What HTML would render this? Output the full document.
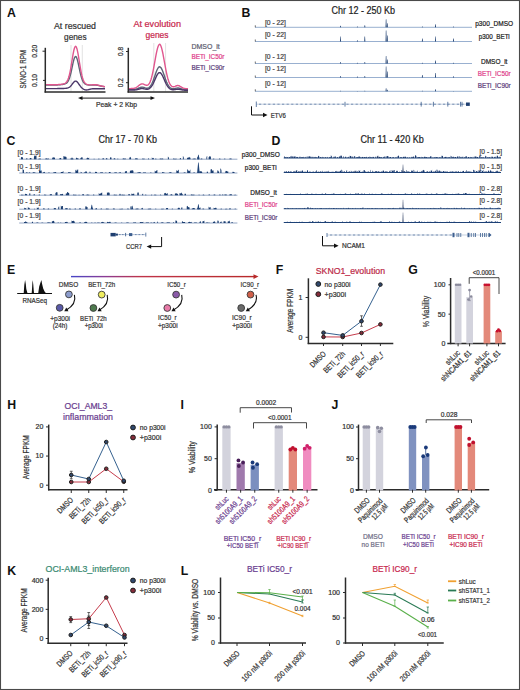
<!DOCTYPE html>
<html><head><meta charset="utf-8"><style>
html,body{margin:0;padding:0;background:#fff;}
svg{display:block;font-family:"Liberation Sans", sans-serif;}
</style></head><body>
<svg width="520" height="690" viewBox="0 0 520 690">
<rect x="0" y="0" width="520" height="690" fill="#fff"/>
<text x="6.90" y="16.60" font-size="12.3" fill="#111" font-weight="bold" >A</text>
<text x="75.00" y="29.00" font-size="9" fill="#333" text-anchor="middle" textLength="42.00" lengthAdjust="spacingAndGlyphs" stroke="#333" stroke-width="0.22" >At rescued</text>
<text x="75.30" y="39.70" font-size="9" fill="#333" text-anchor="middle" textLength="22.50" lengthAdjust="spacingAndGlyphs" stroke="#333" stroke-width="0.22" >genes</text>
<text x="157.20" y="27.30" font-size="9" fill="#c8284e" text-anchor="middle" textLength="47.50" lengthAdjust="spacingAndGlyphs" stroke="#c8284e" stroke-width="0.22" >At evolution</text>
<text x="157.00" y="37.60" font-size="9" fill="#c8284e" text-anchor="middle" textLength="23.00" lengthAdjust="spacingAndGlyphs" stroke="#c8284e" stroke-width="0.22" >genes</text>
<line x1="71.00" y1="45.00" x2="71.00" y2="91.50" stroke="#cfcfcf" stroke-width="0.6" />
<line x1="82.30" y1="45.00" x2="82.30" y2="91.50" stroke="#cfcfcf" stroke-width="0.6" />
<line x1="153.80" y1="43.00" x2="153.80" y2="91.50" stroke="#cfcfcf" stroke-width="0.6" />
<line x1="165.60" y1="43.00" x2="165.60" y2="91.50" stroke="#cfcfcf" stroke-width="0.6" />
<path d="M46.00,84.99 L46.50,85.00 L47.00,85.01 L47.50,85.02 L48.00,85.03 L48.50,85.04 L49.00,85.05 L49.50,85.06 L50.00,85.07 L50.50,85.08 L51.00,85.08 L51.50,85.08 L52.00,85.09 L52.50,85.09 L53.00,85.09 L53.50,85.08 L54.00,85.08 L54.50,85.07 L55.00,85.06 L55.50,85.04 L56.00,85.03 L56.50,85.00 L57.00,84.98 L57.50,84.95 L58.00,84.92 L58.50,84.89 L59.00,84.85 L59.50,84.81 L60.00,84.76 L60.50,84.71 L61.00,84.65 L61.50,84.59 L62.00,84.52 L62.50,84.45 L63.00,84.36 L63.50,84.27 L64.00,84.16 L64.50,84.03 L65.00,83.87 L65.50,83.66 L66.00,83.40 L66.50,83.07 L67.00,82.63 L67.50,82.06 L68.00,81.34 L68.50,80.44 L69.00,79.32 L69.50,77.97 L70.00,76.37 L70.50,74.53 L71.00,72.47 L71.50,70.23 L72.00,67.88 L72.50,65.51 L73.00,63.20 L73.50,61.09 L74.00,59.27 L74.50,57.85 L75.00,56.91 L75.50,56.51 L76.00,56.68 L76.50,57.41 L77.00,58.65 L77.50,60.33 L78.00,62.36 L78.50,64.62 L79.00,67.01 L79.50,69.41 L80.00,71.74 L80.50,73.92 L81.00,75.89 L81.50,77.63 L82.00,79.13 L82.50,80.38 L83.00,81.41 L83.50,82.24 L84.00,82.90 L84.50,83.41 L85.00,83.81 L85.50,84.12 L86.00,84.37 L86.50,84.56 L87.00,84.71 L87.50,84.83 L88.00,84.92 L88.50,84.99 L89.00,85.05 L89.50,85.09 L90.00,85.11 L90.50,85.13 L91.00,85.13 L91.50,85.12 L92.00,85.11 L92.50,85.09 L93.00,85.07 L93.50,85.05 L94.00,85.03 L94.50,85.03 L95.00,85.04 L95.50,85.06 L96.00,85.10 L96.50,85.15 L97.00,85.22 L97.50,85.30 L98.00,85.39 L98.50,85.50 L99.00,85.61 L99.50,85.73 L100.00,85.84 L100.50,85.96 L101.00,86.07 L101.50,86.18 L102.00,86.28 L102.50,86.37 L103.00,86.45 L103.50,86.52 L104.00,86.59 L104.50,86.64 L105.00,86.69" stroke="#5c6676" fill="none" stroke-width="1.4" />
<path d="M46.00,84.59 L46.50,84.60 L47.00,84.62 L47.50,84.63 L48.00,84.65 L48.50,84.66 L49.00,84.67 L49.50,84.69 L50.00,84.70 L50.50,84.71 L51.00,84.71 L51.50,84.72 L52.00,84.73 L52.50,84.73 L53.00,84.73 L53.50,84.73 L54.00,84.73 L54.50,84.72 L55.00,84.72 L55.50,84.71 L56.00,84.69 L56.50,84.68 L57.00,84.66 L57.50,84.63 L58.00,84.60 L58.50,84.57 L59.00,84.54 L59.50,84.50 L60.00,84.45 L60.50,84.40 L61.00,84.34 L61.50,84.28 L62.00,84.21 L62.50,84.12 L63.00,84.03 L63.50,83.90 L64.00,83.75 L64.50,83.56 L65.00,83.32 L65.50,83.00 L66.00,82.58 L66.50,82.04 L67.00,81.34 L67.50,80.45 L68.00,79.33 L68.50,77.96 L69.00,76.30 L69.50,74.34 L70.00,72.07 L70.50,69.52 L71.00,66.72 L71.50,63.74 L72.00,60.66 L72.50,57.60 L73.00,54.66 L73.50,52.00 L74.00,49.72 L74.50,47.96 L75.00,46.80 L75.50,46.31 L76.00,46.52 L76.50,47.42 L77.00,48.96 L77.50,51.05 L78.00,53.59 L78.50,56.46 L79.00,59.52 L79.50,62.64 L80.00,65.72 L80.50,68.65 L81.00,71.35 L81.50,73.79 L82.00,75.93 L82.50,77.76 L83.00,79.29 L83.50,80.56 L84.00,81.58 L84.50,82.39 L85.00,83.02 L85.50,83.52 L86.00,83.90 L86.50,84.19 L87.00,84.41 L87.50,84.58 L88.00,84.70 L88.50,84.79 L89.00,84.85 L89.50,84.89 L90.00,84.91 L90.50,84.91 L91.00,84.89 L91.50,84.87 L92.00,84.83 L92.50,84.80 L93.00,84.76 L93.50,84.72 L94.00,84.69 L94.50,84.68 L95.00,84.68 L95.50,84.70 L96.00,84.73 L96.50,84.79 L97.00,84.87 L97.50,84.97 L98.00,85.08 L98.50,85.21 L99.00,85.34 L99.50,85.48 L100.00,85.63 L100.50,85.77 L101.00,85.91 L101.50,86.04 L102.00,86.16 L102.50,86.27 L103.00,86.37 L103.50,86.46 L104.00,86.54 L104.50,86.61 L105.00,86.67" stroke="#e0568e" fill="none" stroke-width="1.4" />
<path d="M46.00,88.60 L46.50,88.60 L47.00,88.60 L47.50,88.60 L48.00,88.60 L48.50,88.60 L49.00,88.60 L49.50,88.60 L50.00,88.60 L50.50,88.61 L51.00,88.61 L51.50,88.60 L52.00,88.60 L52.50,88.60 L53.00,88.60 L53.50,88.60 L54.00,88.60 L54.50,88.60 L55.00,88.59 L55.50,88.59 L56.00,88.59 L56.50,88.58 L57.00,88.58 L57.50,88.57 L58.00,88.57 L58.50,88.56 L59.00,88.55 L59.50,88.54 L60.00,88.54 L60.50,88.53 L61.00,88.52 L61.50,88.51 L62.00,88.49 L62.50,88.48 L63.00,88.47 L63.50,88.45 L64.00,88.43 L64.50,88.41 L65.00,88.38 L65.50,88.35 L66.00,88.30 L66.50,88.24 L67.00,88.16 L67.50,88.05 L68.00,87.89 L68.50,87.69 L69.00,87.44 L69.50,87.11 L70.00,86.72 L70.50,86.25 L71.00,85.70 L71.50,85.10 L72.00,84.44 L72.50,83.77 L73.00,83.10 L73.50,82.48 L74.00,81.94 L74.50,81.51 L75.00,81.23 L75.50,81.11 L76.00,81.16 L76.50,81.39 L77.00,81.77 L77.50,82.28 L78.00,82.89 L78.50,83.57 L79.00,84.28 L79.50,85.00 L80.00,85.69 L80.50,86.34 L81.00,86.94 L81.50,87.49 L82.00,87.97 L82.50,88.40 L83.00,88.78 L83.50,89.10 L84.00,89.37 L84.50,89.59 L85.00,89.76 L85.50,89.88 L86.00,89.94 L86.50,89.95 L87.00,89.92 L87.50,89.85 L88.00,89.75 L88.50,89.62 L89.00,89.49 L89.50,89.35 L90.00,89.23 L90.50,89.11 L91.00,89.01 L91.50,88.93 L92.00,88.86 L92.50,88.82 L93.00,88.78 L93.50,88.76 L94.00,88.74 L94.50,88.74 L95.00,88.73 L95.50,88.73 L96.00,88.74 L96.50,88.74 L97.00,88.75 L97.50,88.75 L98.00,88.75 L98.50,88.76 L99.00,88.76 L99.50,88.77 L100.00,88.77 L100.50,88.77 L101.00,88.78 L101.50,88.78 L102.00,88.78 L102.50,88.79 L103.00,88.79 L103.50,88.79 L104.00,88.79 L104.50,88.80 L105.00,88.80" stroke="#4a3668" fill="none" stroke-width="1.4" />
<path d="M129.00,89.30 L129.50,89.30 L130.00,89.30 L130.50,89.31 L131.00,89.31 L131.50,89.31 L132.00,89.31 L132.50,89.30 L133.00,89.30 L133.50,89.28 L134.00,89.26 L134.50,89.23 L135.00,89.19 L135.50,89.12 L136.00,89.04 L136.50,88.93 L137.00,88.79 L137.50,88.63 L138.00,88.44 L138.50,88.23 L139.00,88.01 L139.50,87.80 L140.00,87.59 L140.50,87.41 L141.00,87.27 L141.50,87.18 L142.00,87.15 L142.50,87.17 L143.00,87.25 L143.50,87.37 L144.00,87.52 L144.50,87.69 L145.00,87.87 L145.50,88.02 L146.00,88.14 L146.50,88.21 L147.00,88.22 L147.50,88.16 L148.00,88.02 L148.50,87.80 L149.00,87.48 L149.50,87.06 L150.00,86.54 L150.50,85.90 L151.00,85.15 L151.50,84.28 L152.00,83.29 L152.50,82.19 L153.00,80.98 L153.50,79.68 L154.00,78.30 L154.50,76.87 L155.00,75.41 L155.50,73.96 L156.00,72.56 L156.50,71.23 L157.00,70.01 L157.50,68.95 L158.00,68.08 L158.50,67.41 L159.00,66.98 L159.50,66.81 L160.00,66.88 L160.50,67.21 L161.00,67.78 L161.50,68.58 L162.00,69.57 L162.50,70.73 L163.00,72.02 L163.50,73.40 L164.00,74.85 L164.50,76.31 L165.00,77.76 L165.50,79.17 L166.00,80.51 L166.50,81.77 L167.00,82.92 L167.50,83.97 L168.00,84.90 L168.50,85.71 L169.00,86.41 L169.50,87.01 L170.00,87.50 L170.50,87.90 L171.00,88.22 L171.50,88.45 L172.00,88.62 L172.50,88.72 L173.00,88.76 L173.50,88.75 L174.00,88.70 L174.50,88.62 L175.00,88.52 L175.50,88.40 L176.00,88.29 L176.50,88.18 L177.00,88.10 L177.50,88.05 L178.00,88.04 L178.50,88.07 L179.00,88.13 L179.50,88.23 L180.00,88.36 L180.50,88.50 L181.00,88.65 L181.50,88.81 L182.00,88.95 L182.50,89.08 L183.00,89.20 L183.50,89.30 L184.00,89.38 L184.50,89.44 L185.00,89.49 L185.50,89.52 L186.00,89.55 L186.50,89.57 L187.00,89.58 L187.50,89.59 L188.00,89.59" stroke="#5c6676" fill="none" stroke-width="1.4" />
<path d="M129.00,88.59 L129.50,88.59 L130.00,88.58 L130.50,88.58 L131.00,88.56 L131.50,88.55 L132.00,88.52 L132.50,88.48 L133.00,88.43 L133.50,88.36 L134.00,88.26 L134.50,88.13 L135.00,87.98 L135.50,87.78 L136.00,87.54 L136.50,87.26 L137.00,86.94 L137.50,86.59 L138.00,86.20 L138.50,85.80 L139.00,85.41 L139.50,85.02 L140.00,84.67 L140.50,84.36 L141.00,84.13 L141.50,83.96 L142.00,83.88 L142.50,83.89 L143.00,83.97 L143.50,84.12 L144.00,84.32 L144.50,84.55 L145.00,84.78 L145.50,85.00 L146.00,85.17 L146.50,85.27 L147.00,85.27 L147.50,85.15 L148.00,84.90 L148.50,84.48 L149.00,83.88 L149.50,83.09 L150.00,82.09 L150.50,80.87 L151.00,79.42 L151.50,77.74 L152.00,75.83 L152.50,73.70 L153.00,71.37 L153.50,68.87 L154.00,66.22 L154.50,63.47 L155.00,60.69 L155.50,57.92 L156.00,55.23 L156.50,52.70 L157.00,50.39 L157.50,48.38 L158.00,46.72 L158.50,45.46 L159.00,44.65 L159.50,44.31 L160.00,44.46 L160.50,45.08 L161.00,46.16 L161.50,47.67 L162.00,49.55 L162.50,51.75 L163.00,54.20 L163.50,56.84 L164.00,59.59 L164.50,62.38 L165.00,65.16 L165.50,67.86 L166.00,70.44 L166.50,72.86 L167.00,75.10 L167.50,77.13 L168.00,78.95 L168.50,80.55 L169.00,81.94 L169.50,83.12 L170.00,84.11 L170.50,84.92 L171.00,85.56 L171.50,86.05 L172.00,86.41 L172.50,86.64 L173.00,86.75 L173.50,86.77 L174.00,86.70 L174.50,86.56 L175.00,86.38 L175.50,86.18 L176.00,85.97 L176.50,85.79 L177.00,85.65 L177.50,85.57 L178.00,85.56 L178.50,85.63 L179.00,85.78 L179.50,85.99 L180.00,86.25 L180.50,86.55 L181.00,86.87 L181.50,87.18 L182.00,87.48 L182.50,87.75 L183.00,87.98 L183.50,88.18 L184.00,88.34 L184.50,88.47 L185.00,88.56 L185.50,88.64 L186.00,88.69 L186.50,88.72 L187.00,88.75 L187.50,88.77 L188.00,88.78" stroke="#e0568e" fill="none" stroke-width="1.4" />
<path d="M129.00,90.00 L129.50,90.00 L130.00,90.00 L130.50,90.01 L131.00,90.01 L131.50,90.01 L132.00,90.01 L132.50,90.01 L133.00,90.00 L133.50,90.00 L134.00,89.98 L134.50,89.96 L135.00,89.93 L135.50,89.89 L136.00,89.83 L136.50,89.76 L137.00,89.67 L137.50,89.56 L138.00,89.43 L138.50,89.29 L139.00,89.14 L139.50,88.99 L140.00,88.85 L140.50,88.73 L141.00,88.64 L141.50,88.58 L142.00,88.55 L142.50,88.57 L143.00,88.63 L143.50,88.71 L144.00,88.82 L144.50,88.94 L145.00,89.06 L145.50,89.17 L146.00,89.25 L146.50,89.30 L147.00,89.31 L147.50,89.26 L148.00,89.17 L148.50,89.00 L149.00,88.77 L149.50,88.47 L150.00,88.08 L150.50,87.61 L151.00,87.04 L151.50,86.39 L152.00,85.64 L152.50,84.79 L153.00,83.86 L153.50,82.85 L154.00,81.77 L154.50,80.65 L155.00,79.50 L155.50,78.35 L156.00,77.23 L156.50,76.16 L157.00,75.19 L157.50,74.34 L158.00,73.63 L158.50,73.09 L159.00,72.75 L159.50,72.60 L160.00,72.67 L160.50,72.93 L161.00,73.39 L161.50,74.04 L162.00,74.84 L162.50,75.77 L163.00,76.80 L163.50,77.91 L164.00,79.05 L164.50,80.21 L165.00,81.36 L165.50,82.46 L166.00,83.51 L166.50,84.48 L167.00,85.37 L167.50,86.17 L168.00,86.87 L168.50,87.49 L169.00,88.01 L169.50,88.45 L170.00,88.81 L170.50,89.10 L171.00,89.33 L171.50,89.50 L172.00,89.62 L172.50,89.69 L173.00,89.72 L173.50,89.72 L174.00,89.69 L174.50,89.63 L175.00,89.56 L175.50,89.48 L176.00,89.41 L176.50,89.34 L177.00,89.28 L177.50,89.25 L178.00,89.24 L178.50,89.26 L179.00,89.31 L179.50,89.37 L180.00,89.46 L180.50,89.55 L181.00,89.66 L181.50,89.76 L182.00,89.86 L182.50,89.95 L183.00,90.03 L183.50,90.09 L184.00,90.14 L184.50,90.19 L185.00,90.22 L185.50,90.24 L186.00,90.26 L186.50,90.27 L187.00,90.28 L187.50,90.29 L188.00,90.30" stroke="#4a3668" fill="none" stroke-width="1.4" />
<line x1="45.30" y1="47.80" x2="45.30" y2="92.60" stroke="#2b2b2b" stroke-width="1.5" />
<line x1="44.60" y1="91.90" x2="105.50" y2="91.90" stroke="#2b2b2b" stroke-width="1.5" />
<line x1="42.50" y1="51.20" x2="45.30" y2="51.20" stroke="#2b2b2b" stroke-width="1" />
<line x1="43.00" y1="80.40" x2="45.30" y2="80.40" stroke="#2b2b2b" stroke-width="1" />
<line x1="128.30" y1="47.80" x2="128.30" y2="92.60" stroke="#2b2b2b" stroke-width="1.5" />
<line x1="127.60" y1="91.90" x2="188.00" y2="91.90" stroke="#2b2b2b" stroke-width="1.5" />
<line x1="126.00" y1="51.50" x2="128.30" y2="51.50" stroke="#2b2b2b" stroke-width="1" />
<line x1="126.00" y1="82.70" x2="128.30" y2="82.70" stroke="#2b2b2b" stroke-width="1" />
<text x="37.20" y="51.20" font-size="7" fill="#333" text-anchor="middle" textLength="13.00" lengthAdjust="spacingAndGlyphs" stroke="#333" stroke-width="0.22" transform="rotate(-90 37.20 51.20)" >0.20</text>
<text x="37.20" y="80.40" font-size="7" fill="#333" text-anchor="middle" textLength="13.00" lengthAdjust="spacingAndGlyphs" stroke="#333" stroke-width="0.22" transform="rotate(-90 37.20 80.40)" >0.10</text>
<text x="123.20" y="51.50" font-size="7" fill="#333" text-anchor="middle" textLength="9.00" lengthAdjust="spacingAndGlyphs" stroke="#333" stroke-width="0.22" transform="rotate(-90 123.20 51.50)" >0.8</text>
<text x="123.20" y="82.70" font-size="7" fill="#333" text-anchor="middle" textLength="9.00" lengthAdjust="spacingAndGlyphs" stroke="#333" stroke-width="0.22" transform="rotate(-90 123.20 82.70)" >0.2</text>
<text x="26.40" y="69.30" font-size="9" fill="#333" text-anchor="middle" textLength="38.50" lengthAdjust="spacingAndGlyphs" stroke="#333" stroke-width="0.22" transform="rotate(-90 26.40 69.30)" >SKNO-1 RPM</text>
<line x1="80.00" y1="98.10" x2="153.00" y2="98.10" stroke="#111" stroke-width="1" />
<path d="M78,98.1 L82.5,96.2 L82.5,100 Z" stroke="none" fill="#111" stroke-width="1" />
<path d="M155,98.1 L150.5,96.2 L150.5,100 Z" stroke="none" fill="#111" stroke-width="1" />
<text x="96.00" y="106.90" font-size="7.5" fill="#333" textLength="41.00" lengthAdjust="spacingAndGlyphs" stroke="#333" stroke-width="0.22" >Peak + 2 Kbp</text>
<text x="191.50" y="48.50" font-size="7.5" fill="#5e5e70" textLength="28.30" lengthAdjust="spacingAndGlyphs" stroke="#5e5e70" stroke-width="0.22" >DMSO_lt</text>
<text x="191.50" y="59.00" font-size="7.5" fill="#e0408a" textLength="33.00" lengthAdjust="spacingAndGlyphs" stroke="#e0408a" stroke-width="0.22" >BETi_IC50r</text>
<text x="191.50" y="70.00" font-size="7.5" fill="#5a3a78" textLength="33.00" lengthAdjust="spacingAndGlyphs" stroke="#5a3a78" stroke-width="0.22" >BETi_IC90r</text>
<text x="241.60" y="16.60" font-size="12.3" fill="#111" font-weight="bold" >B</text>
<text x="331.50" y="14.00" font-size="10" fill="#222" textLength="63.50" lengthAdjust="spacingAndGlyphs" stroke="#222" stroke-width="0.22" >Chr 12  - 250 Kb</text>
<line x1="255.00" y1="27.30" x2="472.00" y2="27.30" stroke="#7f9cc4" stroke-width="0.8" />
<line x1="255.30" y1="25.30" x2="255.30" y2="27.30" stroke="#333" stroke-width="0.7" />
<text x="265.00" y="24.80" font-size="7" fill="#444" textLength="21.00" lengthAdjust="spacingAndGlyphs" stroke="#444" stroke-width="0.22" >[0 - 22]</text>
<line x1="255.00" y1="41.50" x2="472.00" y2="41.50" stroke="#7f9cc4" stroke-width="0.8" />
<line x1="255.30" y1="39.50" x2="255.30" y2="41.50" stroke="#333" stroke-width="0.7" />
<text x="265.00" y="37.20" font-size="7" fill="#444" textLength="21.00" lengthAdjust="spacingAndGlyphs" stroke="#444" stroke-width="0.22" >[0 - 22]</text>
<line x1="255.00" y1="63.50" x2="472.00" y2="63.50" stroke="#7f9cc4" stroke-width="0.8" />
<line x1="255.30" y1="61.50" x2="255.30" y2="63.50" stroke="#333" stroke-width="0.7" />
<text x="265.00" y="58.90" font-size="7" fill="#444" textLength="21.00" lengthAdjust="spacingAndGlyphs" stroke="#444" stroke-width="0.22" >[0 - 12]</text>
<line x1="255.00" y1="77.50" x2="472.00" y2="77.50" stroke="#7f9cc4" stroke-width="0.8" />
<line x1="255.30" y1="75.50" x2="255.30" y2="77.50" stroke="#333" stroke-width="0.7" />
<text x="265.00" y="71.00" font-size="7" fill="#444" textLength="21.00" lengthAdjust="spacingAndGlyphs" stroke="#444" stroke-width="0.22" >[0 - 12]</text>
<line x1="255.00" y1="91.30" x2="472.00" y2="91.30" stroke="#7f9cc4" stroke-width="0.8" />
<line x1="255.30" y1="89.30" x2="255.30" y2="91.30" stroke="#333" stroke-width="0.7" />
<text x="265.00" y="85.80" font-size="7" fill="#444" textLength="21.00" lengthAdjust="spacingAndGlyphs" stroke="#444" stroke-width="0.22" >[0 - 12]</text>
<path d="M339.95,27.30 L340.25,25.80 L340.75,25.80 L341.05,27.30 Z" stroke="none" fill="#1f3f70" stroke-width="1" />
<path d="M339.95,41.50 L340.25,36.50 L340.75,36.50 L341.05,41.50 Z" stroke="none" fill="#1f3f70" stroke-width="1" />
<path d="M339.95,63.50 L340.25,62.00 L340.75,62.00 L341.05,63.50 Z" stroke="none" fill="#1f3f70" stroke-width="1" />
<path d="M339.95,77.50 L340.25,76.00 L340.75,76.00 L341.05,77.50 Z" stroke="none" fill="#1f3f70" stroke-width="1" />
<path d="M339.95,91.30 L340.25,90.70 L340.75,90.70 L341.05,91.30 Z" stroke="none" fill="#1f3f70" stroke-width="1" />
<path d="M356.85,27.30 L357.15,26.50 L357.65,26.50 L357.95,27.30 Z" stroke="none" fill="#1f3f70" stroke-width="1" />
<path d="M356.85,41.50 L357.15,40.30 L357.65,40.30 L357.95,41.50 Z" stroke="none" fill="#1f3f70" stroke-width="1" />
<path d="M356.85,63.50 L357.15,62.70 L357.65,62.70 L357.95,63.50 Z" stroke="none" fill="#1f3f70" stroke-width="1" />
<path d="M356.85,77.50 L357.15,76.50 L357.65,76.50 L357.95,77.50 Z" stroke="none" fill="#1f3f70" stroke-width="1" />
<path d="M356.85,91.30 L357.15,90.90 L357.65,90.90 L357.95,91.30 Z" stroke="none" fill="#1f3f70" stroke-width="1" />
<path d="M364.25,27.30 L364.55,25.30 L365.05,25.30 L365.35,27.30 Z" stroke="none" fill="#1f3f70" stroke-width="1" />
<path d="M364.25,41.50 L364.55,36.50 L365.05,36.50 L365.35,41.50 Z" stroke="none" fill="#1f3f70" stroke-width="1" />
<path d="M364.25,63.50 L364.55,62.00 L365.05,62.00 L365.35,63.50 Z" stroke="none" fill="#1f3f70" stroke-width="1" />
<path d="M364.25,77.50 L364.55,76.00 L365.05,76.00 L365.35,77.50 Z" stroke="none" fill="#1f3f70" stroke-width="1" />
<path d="M364.25,91.30 L364.55,90.80 L365.05,90.80 L365.35,91.30 Z" stroke="none" fill="#1f3f70" stroke-width="1" />
<path d="M385.55,27.30 L385.85,19.30 L386.35,19.30 L386.65,27.30 Z" stroke="none" fill="#1f3f70" stroke-width="1" />
<path d="M385.55,41.50 L385.85,30.50 L386.35,30.50 L386.65,41.50 Z" stroke="none" fill="#1f3f70" stroke-width="1" />
<path d="M385.55,63.50 L385.85,56.00 L386.35,56.00 L386.65,63.50 Z" stroke="none" fill="#1f3f70" stroke-width="1" />
<path d="M385.55,77.50 L385.85,66.50 L386.35,66.50 L386.65,77.50 Z" stroke="none" fill="#1f3f70" stroke-width="1" />
<path d="M385.55,91.30 L385.85,88.30 L386.35,88.30 L386.65,91.30 Z" stroke="none" fill="#1f3f70" stroke-width="1" />
<path d="M386.75,27.30 L387.05,23.30 L387.55,23.30 L387.85,27.30 Z" stroke="none" fill="#1f3f70" stroke-width="1" />
<path d="M386.75,41.50 L387.05,35.50 L387.55,35.50 L387.85,41.50 Z" stroke="none" fill="#1f3f70" stroke-width="1" />
<path d="M386.75,63.50 L387.05,59.50 L387.55,59.50 L387.85,63.50 Z" stroke="none" fill="#1f3f70" stroke-width="1" />
<path d="M386.75,77.50 L387.05,71.50 L387.55,71.50 L387.85,77.50 Z" stroke="none" fill="#1f3f70" stroke-width="1" />
<path d="M386.75,91.30 L387.05,89.80 L387.55,89.80 L387.85,91.30 Z" stroke="none" fill="#1f3f70" stroke-width="1" />
<path d="M421.85,27.30 L422.15,26.50 L422.65,26.50 L422.95,27.30 Z" stroke="none" fill="#1f3f70" stroke-width="1" />
<path d="M421.85,41.50 L422.15,38.50 L422.65,38.50 L422.95,41.50 Z" stroke="none" fill="#1f3f70" stroke-width="1" />
<path d="M421.85,63.50 L422.15,62.70 L422.65,62.70 L422.95,63.50 Z" stroke="none" fill="#1f3f70" stroke-width="1" />
<path d="M421.85,77.50 L422.15,75.00 L422.65,75.00 L422.95,77.50 Z" stroke="none" fill="#1f3f70" stroke-width="1" />
<path d="M421.85,91.30 L422.15,90.80 L422.65,90.80 L422.95,91.30 Z" stroke="none" fill="#1f3f70" stroke-width="1" />
<path d="M434.95,27.30 L435.25,24.30 L435.75,24.30 L436.05,27.30 Z" stroke="none" fill="#1f3f70" stroke-width="1" />
<path d="M434.95,41.50 L435.25,36.50 L435.75,36.50 L436.05,41.50 Z" stroke="none" fill="#1f3f70" stroke-width="1" />
<path d="M434.95,63.50 L435.25,60.50 L435.75,60.50 L436.05,63.50 Z" stroke="none" fill="#1f3f70" stroke-width="1" />
<path d="M434.95,77.50 L435.25,73.00 L435.75,73.00 L436.05,77.50 Z" stroke="none" fill="#1f3f70" stroke-width="1" />
<path d="M434.95,91.30 L435.25,89.30 L435.75,89.30 L436.05,91.30 Z" stroke="none" fill="#1f3f70" stroke-width="1" />
<path d="M452.95,27.30 L453.25,26.50 L453.75,26.50 L454.05,27.30 Z" stroke="none" fill="#1f3f70" stroke-width="1" />
<path d="M452.95,41.50 L453.25,38.50 L453.75,38.50 L454.05,41.50 Z" stroke="none" fill="#1f3f70" stroke-width="1" />
<path d="M452.95,63.50 L453.25,62.70 L453.75,62.70 L454.05,63.50 Z" stroke="none" fill="#1f3f70" stroke-width="1" />
<path d="M452.95,77.50 L453.25,76.30 L453.75,76.30 L454.05,77.50 Z" stroke="none" fill="#1f3f70" stroke-width="1" />
<path d="M452.95,91.30 L453.25,90.90 L453.75,90.90 L454.05,91.30 Z" stroke="none" fill="#1f3f70" stroke-width="1" />
<text x="494.20" y="25.80" font-size="7.5" fill="#222" text-anchor="middle" textLength="38.00" lengthAdjust="spacingAndGlyphs" stroke="#222" stroke-width="0.22" >p300_DMSO</text>
<text x="494.20" y="38.60" font-size="7.5" fill="#222" text-anchor="middle" textLength="31.00" lengthAdjust="spacingAndGlyphs" stroke="#222" stroke-width="0.22" >p300_BETi</text>
<text x="494.20" y="63.60" font-size="7.5" fill="#222" text-anchor="middle" textLength="26.50" lengthAdjust="spacingAndGlyphs" stroke="#222" stroke-width="0.22" >DMSO_lt</text>
<text x="494.20" y="76.10" font-size="7.5" fill="#e0408a" text-anchor="middle" textLength="33.00" lengthAdjust="spacingAndGlyphs" stroke="#e0408a" stroke-width="0.22" >BETi_IC50r</text>
<text x="494.20" y="88.00" font-size="7.5" fill="#5a3a78" text-anchor="middle" textLength="33.00" lengthAdjust="spacingAndGlyphs" stroke="#5a3a78" stroke-width="0.22" >BETi_IC90r</text>
<line x1="256.30" y1="104.20" x2="467.00" y2="104.20" stroke="#9fb2cc" stroke-width="0.6" />
<line x1="259.00" y1="104.20" x2="261.20" y2="104.20" stroke="#4a6a98" stroke-width="0.7" />
<line x1="263.60" y1="104.20" x2="265.80" y2="104.20" stroke="#4a6a98" stroke-width="0.7" />
<line x1="268.20" y1="104.20" x2="270.40" y2="104.20" stroke="#4a6a98" stroke-width="0.7" />
<line x1="272.80" y1="104.20" x2="275.00" y2="104.20" stroke="#4a6a98" stroke-width="0.7" />
<line x1="277.40" y1="104.20" x2="279.60" y2="104.20" stroke="#4a6a98" stroke-width="0.7" />
<line x1="282.00" y1="104.20" x2="284.20" y2="104.20" stroke="#4a6a98" stroke-width="0.7" />
<line x1="286.60" y1="104.20" x2="288.80" y2="104.20" stroke="#4a6a98" stroke-width="0.7" />
<line x1="291.20" y1="104.20" x2="293.40" y2="104.20" stroke="#4a6a98" stroke-width="0.7" />
<line x1="295.80" y1="104.20" x2="298.00" y2="104.20" stroke="#4a6a98" stroke-width="0.7" />
<line x1="300.40" y1="104.20" x2="302.60" y2="104.20" stroke="#4a6a98" stroke-width="0.7" />
<line x1="305.00" y1="104.20" x2="307.20" y2="104.20" stroke="#4a6a98" stroke-width="0.7" />
<line x1="309.60" y1="104.20" x2="311.80" y2="104.20" stroke="#4a6a98" stroke-width="0.7" />
<line x1="314.20" y1="104.20" x2="316.40" y2="104.20" stroke="#4a6a98" stroke-width="0.7" />
<line x1="318.80" y1="104.20" x2="321.00" y2="104.20" stroke="#4a6a98" stroke-width="0.7" />
<line x1="323.40" y1="104.20" x2="325.60" y2="104.20" stroke="#4a6a98" stroke-width="0.7" />
<line x1="328.00" y1="104.20" x2="330.20" y2="104.20" stroke="#4a6a98" stroke-width="0.7" />
<line x1="332.60" y1="104.20" x2="334.80" y2="104.20" stroke="#4a6a98" stroke-width="0.7" />
<line x1="337.20" y1="104.20" x2="339.40" y2="104.20" stroke="#4a6a98" stroke-width="0.7" />
<line x1="341.80" y1="104.20" x2="344.00" y2="104.20" stroke="#4a6a98" stroke-width="0.7" />
<line x1="346.40" y1="104.20" x2="348.60" y2="104.20" stroke="#4a6a98" stroke-width="0.7" />
<line x1="351.00" y1="104.20" x2="353.20" y2="104.20" stroke="#4a6a98" stroke-width="0.7" />
<line x1="355.60" y1="104.20" x2="357.80" y2="104.20" stroke="#4a6a98" stroke-width="0.7" />
<line x1="360.20" y1="104.20" x2="362.40" y2="104.20" stroke="#4a6a98" stroke-width="0.7" />
<line x1="364.80" y1="104.20" x2="367.00" y2="104.20" stroke="#4a6a98" stroke-width="0.7" />
<line x1="369.40" y1="104.20" x2="371.60" y2="104.20" stroke="#4a6a98" stroke-width="0.7" />
<line x1="374.00" y1="104.20" x2="376.20" y2="104.20" stroke="#4a6a98" stroke-width="0.7" />
<line x1="378.60" y1="104.20" x2="380.80" y2="104.20" stroke="#4a6a98" stroke-width="0.7" />
<line x1="383.20" y1="104.20" x2="385.40" y2="104.20" stroke="#4a6a98" stroke-width="0.7" />
<line x1="387.80" y1="104.20" x2="390.00" y2="104.20" stroke="#4a6a98" stroke-width="0.7" />
<line x1="392.40" y1="104.20" x2="394.60" y2="104.20" stroke="#4a6a98" stroke-width="0.7" />
<line x1="397.00" y1="104.20" x2="399.20" y2="104.20" stroke="#4a6a98" stroke-width="0.7" />
<line x1="401.60" y1="104.20" x2="403.80" y2="104.20" stroke="#4a6a98" stroke-width="0.7" />
<line x1="406.20" y1="104.20" x2="408.40" y2="104.20" stroke="#4a6a98" stroke-width="0.7" />
<line x1="410.80" y1="104.20" x2="413.00" y2="104.20" stroke="#4a6a98" stroke-width="0.7" />
<line x1="415.40" y1="104.20" x2="417.60" y2="104.20" stroke="#4a6a98" stroke-width="0.7" />
<line x1="420.00" y1="104.20" x2="422.20" y2="104.20" stroke="#4a6a98" stroke-width="0.7" />
<line x1="424.60" y1="104.20" x2="426.80" y2="104.20" stroke="#4a6a98" stroke-width="0.7" />
<line x1="429.20" y1="104.20" x2="431.40" y2="104.20" stroke="#4a6a98" stroke-width="0.7" />
<line x1="433.80" y1="104.20" x2="436.00" y2="104.20" stroke="#4a6a98" stroke-width="0.7" />
<line x1="438.40" y1="104.20" x2="440.60" y2="104.20" stroke="#4a6a98" stroke-width="0.7" />
<line x1="443.00" y1="104.20" x2="445.20" y2="104.20" stroke="#4a6a98" stroke-width="0.7" />
<line x1="447.60" y1="104.20" x2="449.80" y2="104.20" stroke="#4a6a98" stroke-width="0.7" />
<line x1="452.20" y1="104.20" x2="454.40" y2="104.20" stroke="#4a6a98" stroke-width="0.7" />
<line x1="456.80" y1="104.20" x2="459.00" y2="104.20" stroke="#4a6a98" stroke-width="0.7" />
<line x1="461.40" y1="104.20" x2="463.60" y2="104.20" stroke="#4a6a98" stroke-width="0.7" />
<line x1="256.30" y1="101.50" x2="256.30" y2="107.00" stroke="#3d5f8f" stroke-width="0.8" />
<line x1="345.00" y1="101.80" x2="345.00" y2="106.60" stroke="#3d5f8f" stroke-width="0.8" />
<line x1="421.20" y1="101.80" x2="421.20" y2="106.60" stroke="#3d5f8f" stroke-width="0.8" />
<line x1="433.40" y1="101.80" x2="433.40" y2="106.60" stroke="#3d5f8f" stroke-width="0.8" />
<line x1="447.80" y1="101.80" x2="447.80" y2="106.60" stroke="#3d5f8f" stroke-width="0.8" />
<line x1="460.50" y1="101.80" x2="460.50" y2="106.60" stroke="#3d5f8f" stroke-width="0.8" />
<line x1="462.00" y1="101.80" x2="462.00" y2="106.60" stroke="#3d5f8f" stroke-width="0.8" />
<rect x="466.00" y="102.50" width="3.80" height="3.40" fill="#1f3f70"/>
<path d="M251.5,106.3 L251.5,115 L264,115" stroke="#111" fill="none" stroke-width="1.0" />
<path d="M267.5,115 L263,112.8 L263,117.2 Z" stroke="none" fill="#111" stroke-width="1" />
<text x="270.80" y="117.90" font-size="7" fill="#333" textLength="15.00" lengthAdjust="spacingAndGlyphs" stroke="#333" stroke-width="0.22" >ETV6</text>
<text x="6.60" y="145.40" font-size="12.3" fill="#111" font-weight="bold" >C</text>
<text x="98.50" y="143.00" font-size="10" fill="#222" textLength="58.40" lengthAdjust="spacingAndGlyphs" stroke="#222" stroke-width="0.22" >Chr 17  - 70 Kb</text>
<text x="17.60" y="155.40" font-size="7" fill="#444" textLength="23.00" lengthAdjust="spacingAndGlyphs" stroke="#444" stroke-width="0.22" >[0 - 1.9]</text>
<line x1="19.20" y1="159.20" x2="237.40" y2="159.20" stroke="#3a5e92" stroke-width="0.55" />
<path d="M20.95,159.20 L20.95,157.14 L21.64,157.10 L22.34,157.55 L23.03,156.99 L23.03,159.20 Z M26.25,159.20 L26.25,158.69 L26.76,158.06 L27.28,158.05 L27.28,159.20 Z M29.75,159.20 L29.75,157.90 L30.58,157.94 L31.42,157.92 L31.42,159.20 Z M33.94,159.20 L33.94,157.04 L34.57,155.21 L35.21,156.20 L35.85,155.35 L36.49,155.55 L36.49,159.20 Z M38.30,159.20 L38.30,158.86 L38.95,158.66 L39.61,158.47 L40.26,158.57 L40.92,158.76 L40.92,159.20 Z M45.31,159.20 L45.31,158.61 L45.98,158.50 L46.66,158.36 L47.33,158.78 L48.00,158.55 L48.67,158.33 L48.67,159.20 Z M52.18,159.20 L52.18,157.42 L52.89,157.75 L53.59,157.29 L54.29,157.38 L54.99,157.66 L54.99,159.20 Z M59.44,159.20 L59.44,158.13 L60.04,158.09 L60.65,158.03 L61.26,158.21 L61.26,159.20 Z M63.42,159.20 L63.42,156.24 L64.05,156.12 L64.68,156.67 L65.32,156.71 L65.95,156.52 L66.59,157.45 L66.59,159.20 Z M70.36,159.20 L70.36,158.47 L71.00,158.49 L71.64,158.80 L72.28,158.83 L72.93,158.55 L73.57,158.74 L73.57,159.20 Z M75.95,159.20 L75.95,157.63 L76.58,157.83 L77.22,158.09 L77.85,158.45 L78.49,158.34 L78.49,159.20 Z M80.42,159.20 L80.42,158.04 L81.17,157.81 L81.93,157.08 L82.69,157.79 L82.69,159.20 Z M86.60,159.20 L86.60,157.91 L87.23,157.83 L87.86,157.65 L88.50,158.26 L89.13,157.54 L89.13,159.20 Z M93.65,159.20 L93.65,158.72 L94.11,158.80 L94.58,158.78 L94.58,159.20 Z M98.22,159.20 L98.22,158.39 L98.79,158.66 L99.36,158.59 L99.36,159.20 Z M102.36,159.20 L102.36,158.59 L103.24,158.32 L104.13,158.55 L104.13,159.20 Z M105.88,159.20 L105.88,158.15 L106.57,158.37 L107.26,158.12 L107.26,159.20 Z M109.98,159.20 L109.98,158.10 L110.75,157.06 L111.51,157.84 L111.51,159.20 Z M113.75,159.20 L113.75,158.29 L114.53,158.26 L115.31,158.51 L115.31,159.20 Z M117.39,159.20 L117.39,158.71 L117.80,158.54 L118.21,158.55 L118.21,159.20 Z M122.66,159.20 L122.66,158.40 L123.28,158.53 L123.90,158.36 L124.52,158.69 L125.14,158.21 L125.76,158.79 L125.76,159.20 Z M129.30,159.20 L129.30,157.88 L130.20,156.67 L131.09,158.11 L131.09,159.20 Z M135.08,159.20 L135.08,158.54 L135.78,158.37 L136.47,158.32 L137.16,158.51 L137.85,158.55 L137.85,159.20 Z M142.25,159.20 L142.25,158.49 L143.03,158.49 L143.81,158.76 L144.59,158.52 L144.59,159.20 Z M148.01,159.20 L148.01,158.34 L148.57,158.50 L149.12,158.70 L149.12,159.20 Z M151.82,159.20 L151.82,157.24 L152.51,158.23 L153.21,158.29 L153.90,157.78 L153.90,159.20 Z M155.18,159.20 L155.18,158.82 L155.80,158.55 L156.41,158.81 L156.41,159.20 Z M159.76,159.20 L159.76,158.47 L160.47,158.56 L161.17,158.77 L161.87,158.38 L162.57,158.48 L163.27,158.67 L163.27,159.20 Z M167.85,159.20 L167.85,156.53 L168.39,157.81 L168.94,156.40 L168.94,159.20 Z M173.12,159.20 L173.12,158.42 L173.79,158.40 L174.46,158.64 L175.13,158.81 L175.81,158.82 L176.48,158.55 L176.48,159.20 Z M179.76,159.20 L179.76,158.44 L180.34,158.00 L180.91,157.96 L180.91,159.20 Z M182.88,159.20 L182.88,155.99 L183.35,156.55 L183.82,157.73 L183.82,159.20 Z M187.01,159.20 L187.01,157.18 L187.71,158.15 L188.41,157.35 L189.11,157.86 L189.81,156.74 L190.51,158.19 L190.51,159.20 Z M192.56,159.20 L192.56,158.71 L193.21,158.71 L193.86,158.41 L194.51,158.51 L195.17,158.39 L195.82,158.76 L195.82,159.20 Z M197.36,159.20 L197.36,157.29 L198.24,156.82 L199.12,157.15 L199.12,159.20 Z M200.63,159.20 L200.63,158.71 L201.47,158.50 L202.31,158.62 L202.31,159.20 Z M206.38,159.20 L206.38,157.42 L206.81,156.18 L207.23,155.96 L207.23,159.20 Z M208.59,159.20 L208.59,157.50 L209.36,156.26 L210.14,156.44 L210.91,156.55 L210.91,159.20 Z M212.85,159.20 L212.85,158.72 L213.50,158.68 L214.15,158.35 L214.15,159.20 Z M218.96,159.20 L218.96,158.73 L219.72,158.43 L220.49,158.78 L220.49,159.20 Z M224.20,159.20 L224.20,158.70 L224.73,158.43 L225.26,158.58 L225.26,159.20 Z M229.40,159.20 L229.40,158.75 L230.15,158.22 L230.90,158.74 L231.65,158.44 L231.65,159.20 Z " stroke="none" fill="#1c3f72" stroke-width="1" />
<path d="M197.20,159.20 L198.15,154.70 L198.65,154.70 L199.60,159.20 Z M71.00,159.20 L71.75,157.60 L72.25,157.60 L73.00,159.20 Z " stroke="none" fill="#1f4478" stroke-width="1" />
<text x="17.60" y="168.90" font-size="7" fill="#444" textLength="23.00" lengthAdjust="spacingAndGlyphs" stroke="#444" stroke-width="0.22" >[0 - 1.9]</text>
<line x1="19.20" y1="173.00" x2="237.40" y2="173.00" stroke="#3a5e92" stroke-width="0.55" />
<path d="M22.61,173.00 L22.61,168.79 L23.28,170.00 L23.95,169.48 L23.95,173.00 Z M25.97,173.00 L25.97,172.19 L26.68,172.48 L27.39,172.02 L27.39,173.00 Z M28.86,173.00 L28.86,172.22 L29.53,172.44 L30.20,172.38 L30.20,173.00 Z M32.64,173.00 L32.64,172.39 L33.28,172.24 L33.93,172.33 L34.58,172.46 L35.22,171.97 L35.22,173.00 Z M39.01,173.00 L39.01,170.72 L39.67,170.75 L40.34,170.66 L41.00,170.70 L41.67,170.13 L41.67,173.00 Z M42.89,173.00 L42.89,172.09 L43.59,172.38 L44.29,171.77 L44.99,172.39 L44.99,173.00 Z M48.34,173.00 L48.34,172.54 L48.95,172.60 L49.57,172.56 L49.57,173.00 Z M53.37,173.00 L53.37,172.14 L54.08,172.26 L54.79,172.24 L55.50,171.99 L56.21,172.36 L56.21,173.00 Z M60.71,173.00 L60.71,172.13 L61.40,172.03 L62.08,172.10 L62.77,171.70 L63.45,170.92 L63.45,173.00 Z M67.98,173.00 L67.98,172.25 L68.61,172.22 L69.24,172.20 L69.87,172.21 L70.50,172.56 L71.12,172.54 L71.12,173.00 Z M75.34,173.00 L75.34,170.55 L76.05,169.57 L76.77,171.22 L77.49,169.42 L78.20,169.58 L78.20,173.00 Z M80.69,173.00 L80.69,171.74 L81.18,172.06 L81.68,172.33 L81.68,173.00 Z M83.93,173.00 L83.93,172.13 L84.56,172.50 L85.18,172.53 L85.80,172.58 L86.42,172.11 L87.04,172.15 L87.04,173.00 Z M89.46,173.00 L89.46,171.15 L89.99,172.19 L90.52,171.45 L90.52,173.00 Z M94.98,173.00 L94.98,171.57 L95.67,172.12 L96.37,172.09 L97.06,171.71 L97.06,173.00 Z M100.36,173.00 L100.36,171.99 L101.13,172.40 L101.90,172.16 L102.66,172.02 L102.66,173.00 Z M105.38,173.00 L105.38,172.59 L105.86,172.54 L106.34,172.56 L106.34,173.00 Z M108.84,173.00 L108.84,172.00 L109.45,171.99 L110.06,171.99 L110.67,172.23 L110.67,173.00 Z M114.39,173.00 L114.39,172.34 L115.17,172.46 L115.95,172.27 L116.73,172.24 L116.73,173.00 Z M118.85,173.00 L118.85,172.27 L119.52,172.46 L120.19,172.46 L120.87,171.74 L120.87,173.00 Z M124.88,173.00 L124.88,171.85 L125.55,171.30 L126.23,171.01 L126.91,171.22 L126.91,173.00 Z M129.87,173.00 L129.87,171.28 L130.58,170.44 L131.29,170.34 L132.01,170.77 L132.72,169.95 L133.43,171.08 L133.43,173.00 Z M137.47,173.00 L137.47,172.27 L138.11,172.50 L138.75,172.29 L139.39,172.27 L140.03,172.11 L140.67,172.21 L140.67,173.00 Z M143.16,173.00 L143.16,172.24 L143.87,172.41 L144.58,172.49 L145.29,172.50 L146.00,172.52 L146.00,173.00 Z M150.23,173.00 L150.23,172.51 L150.76,172.53 L151.30,172.20 L151.30,173.00 Z M154.73,173.00 L154.73,170.49 L155.39,171.42 L156.06,171.08 L156.72,170.34 L157.39,169.89 L157.39,173.00 Z M162.08,173.00 L162.08,172.29 L162.82,172.09 L163.57,172.43 L164.31,172.09 L164.31,173.00 Z M168.94,173.00 L168.94,172.36 L169.55,172.38 L170.15,172.43 L170.76,171.98 L171.36,171.90 L171.36,173.00 Z M176.33,173.00 L176.33,169.97 L176.96,170.73 L177.58,170.94 L178.20,170.29 L178.82,169.60 L178.82,173.00 Z M183.77,173.00 L183.77,172.21 L184.59,172.40 L185.40,172.30 L185.40,173.00 Z M187.18,173.00 L187.18,169.65 L187.81,169.22 L188.45,170.64 L189.09,171.35 L189.73,170.71 L190.37,169.31 L190.37,173.00 Z M193.35,173.00 L193.35,172.54 L194.03,172.39 L194.71,172.13 L194.71,173.00 Z M199.27,173.00 L199.27,171.67 L200.00,170.76 L200.73,171.62 L201.46,171.15 L202.19,171.91 L202.19,173.00 Z M206.78,173.00 L206.78,171.64 L207.36,171.65 L207.94,171.61 L207.94,173.00 Z M210.55,173.00 L210.55,169.82 L211.15,168.93 L211.75,169.25 L212.36,171.21 L212.96,169.69 L213.56,171.12 L213.56,173.00 Z M217.28,173.00 L217.28,171.58 L217.89,169.77 L218.50,171.58 L219.12,171.55 L219.12,173.00 Z M220.33,173.00 L220.33,168.82 L220.90,168.59 L221.48,170.63 L221.48,173.00 Z M225.29,173.00 L225.29,171.65 L225.90,170.64 L226.50,170.99 L227.11,171.06 L227.71,171.63 L228.32,171.47 L228.32,173.00 Z M232.40,173.00 L232.40,171.71 L233.15,172.12 L233.89,171.76 L234.64,172.42 L234.64,173.00 Z " stroke="none" fill="#1c3f72" stroke-width="1" />
<path d="M197.10,173.00 L198.15,162.50 L198.65,162.50 L199.70,173.00 Z M85.00,173.00 L85.75,171.00 L86.25,171.00 L87.00,173.00 Z " stroke="none" fill="#1f4478" stroke-width="1" />
<text x="17.60" y="191.30" font-size="7" fill="#444" textLength="23.00" lengthAdjust="spacingAndGlyphs" stroke="#444" stroke-width="0.22" >[0 - 1.9]</text>
<line x1="19.20" y1="195.20" x2="237.40" y2="195.20" stroke="#3a5e92" stroke-width="0.55" />
<path d="M20.96,195.20 L20.96,194.59 L21.59,194.64 L22.23,194.74 L22.86,194.63 L23.49,194.66 L23.49,195.20 Z M24.85,195.20 L24.85,194.16 L25.61,193.84 L26.37,193.97 L27.14,194.28 L27.14,195.20 Z M29.20,195.20 L29.20,193.26 L29.78,193.38 L30.36,193.62 L30.36,195.20 Z M33.46,195.20 L33.46,194.62 L34.17,194.28 L34.88,194.28 L34.88,195.20 Z M38.63,195.20 L38.63,194.77 L39.37,194.61 L40.12,194.69 L40.12,195.20 Z M44.16,195.20 L44.16,194.33 L44.83,194.74 L45.50,194.72 L46.17,194.51 L46.17,195.20 Z M49.77,195.20 L49.77,194.36 L50.44,194.19 L51.11,194.02 L51.78,194.07 L51.78,195.20 Z M55.41,195.20 L55.41,192.94 L56.11,192.58 L56.82,192.09 L57.52,192.47 L57.52,195.20 Z M60.21,195.20 L60.21,193.88 L60.93,194.12 L61.65,194.20 L62.37,193.83 L63.09,194.20 L63.09,195.20 Z M65.80,195.20 L65.80,193.52 L66.49,193.72 L67.17,192.14 L67.86,192.09 L68.54,193.09 L69.23,193.35 L69.23,195.20 Z M73.03,195.20 L73.03,194.70 L73.72,194.60 L74.40,194.80 L75.09,194.71 L75.78,194.84 L76.46,194.68 L76.46,195.20 Z M78.54,195.20 L78.54,194.76 L79.05,194.77 L79.56,194.76 L79.56,195.20 Z M82.35,195.20 L82.35,193.95 L83.19,194.15 L84.04,194.21 L84.04,195.20 Z M86.37,195.20 L86.37,194.69 L87.09,194.54 L87.81,194.53 L88.53,194.69 L89.25,194.52 L89.25,195.20 Z M92.89,195.20 L92.89,194.84 L93.61,194.57 L94.33,194.74 L94.33,195.20 Z M98.71,195.20 L98.71,193.06 L99.41,193.93 L100.11,193.42 L100.81,193.53 L101.52,192.72 L102.22,192.62 L102.22,195.20 Z M106.92,195.20 L106.92,192.48 L107.61,192.82 L108.31,192.06 L109.00,193.24 L109.69,192.18 L109.69,195.20 Z M113.66,195.20 L113.66,194.83 L114.30,194.50 L114.95,194.85 L115.59,194.72 L116.24,194.65 L116.89,194.70 L116.89,195.20 Z M121.43,195.20 L121.43,194.79 L122.12,194.40 L122.82,194.63 L123.51,194.74 L124.21,194.79 L124.90,194.86 L124.90,195.20 Z M128.32,195.20 L128.32,194.00 L129.11,194.33 L129.90,193.98 L129.90,195.20 Z M131.36,195.20 L131.36,193.19 L132.09,194.34 L132.82,193.75 L133.55,193.69 L134.28,193.64 L134.28,195.20 Z M137.27,195.20 L137.27,192.40 L138.05,192.72 L138.83,192.26 L138.83,195.20 Z M142.14,195.20 L142.14,194.38 L142.65,193.70 L143.16,193.81 L143.16,195.20 Z M145.15,195.20 L145.15,194.84 L145.76,194.49 L146.37,194.81 L146.37,195.20 Z M150.93,195.20 L150.93,194.63 L151.52,194.68 L152.11,194.38 L152.11,195.20 Z M154.22,195.20 L154.22,194.85 L154.94,194.59 L155.66,194.75 L156.37,194.68 L156.37,195.20 Z M160.21,195.20 L160.21,194.61 L160.73,194.48 L161.26,194.90 L161.26,195.20 Z M164.17,195.20 L164.17,192.69 L164.89,193.39 L165.61,192.72 L166.33,194.11 L167.04,193.48 L167.76,192.91 L167.76,195.20 Z M170.44,195.20 L170.44,194.57 L171.12,194.31 L171.80,194.21 L172.48,194.66 L172.48,195.20 Z M174.90,195.20 L174.90,193.42 L175.51,193.58 L176.12,193.30 L176.73,193.38 L177.34,193.64 L177.95,194.06 L177.95,195.20 Z M179.48,195.20 L179.48,192.68 L180.12,193.70 L180.76,192.93 L181.40,192.62 L182.04,193.79 L182.69,194.09 L182.69,195.20 Z M184.55,195.20 L184.55,193.68 L185.25,193.68 L185.96,193.82 L185.96,195.20 Z M190.88,195.20 L190.88,194.26 L191.58,194.38 L192.29,194.66 L192.99,194.46 L193.70,194.71 L194.40,194.57 L194.40,195.20 Z M198.69,195.20 L198.69,194.41 L199.10,194.52 L199.52,194.67 L199.52,195.20 Z M202.71,195.20 L202.71,194.74 L203.57,194.62 L204.44,194.88 L204.44,195.20 Z M208.62,195.20 L208.62,194.55 L209.14,194.24 L209.66,194.22 L209.66,195.20 Z M213.66,195.20 L213.66,194.46 L214.47,194.62 L215.28,194.55 L215.28,195.20 Z M219.23,195.20 L219.23,194.33 L219.90,194.66 L220.57,194.38 L220.57,195.20 Z M222.36,195.20 L222.36,194.56 L222.78,194.35 L223.20,194.24 L223.20,195.20 Z M224.54,195.20 L224.54,194.37 L225.28,194.40 L226.01,194.38 L226.74,194.45 L226.74,195.20 Z M229.26,195.20 L229.26,194.44 L229.89,194.50 L230.53,194.23 L231.16,194.05 L231.80,194.53 L231.80,195.20 Z M234.35,195.20 L234.35,194.65 L234.97,194.80 L235.59,194.51 L235.59,195.20 Z " stroke="none" fill="#1c3f72" stroke-width="1" />
<path d="M119.00,195.20 L119.75,193.70 L120.25,193.70 L121.00,195.20 Z " stroke="none" fill="#1f4478" stroke-width="1" />
<text x="17.60" y="203.60" font-size="7" fill="#444" textLength="23.00" lengthAdjust="spacingAndGlyphs" stroke="#444" stroke-width="0.22" >[0 - 1.9]</text>
<line x1="19.20" y1="209.20" x2="237.40" y2="209.20" stroke="#3a5e92" stroke-width="0.55" />
<path d="M24.12,209.20 L24.12,207.62 L24.81,208.21 L25.51,208.36 L26.20,207.77 L26.20,209.20 Z M27.86,209.20 L27.86,206.51 L28.48,207.83 L29.11,207.89 L29.73,207.64 L29.73,209.20 Z M34.08,209.20 L34.08,208.85 L34.51,208.84 L34.95,208.66 L34.95,209.20 Z M36.84,209.20 L36.84,207.57 L37.49,207.93 L38.14,207.50 L38.79,207.75 L38.79,209.20 Z M43.13,209.20 L43.13,208.54 L43.88,208.35 L44.63,208.52 L44.63,209.20 Z M47.63,209.20 L47.63,208.78 L48.39,208.42 L49.14,208.46 L49.14,209.20 Z M53.74,209.20 L53.74,208.14 L54.50,207.94 L55.26,208.31 L56.02,208.01 L56.02,209.20 Z M58.18,209.20 L58.18,207.76 L58.72,206.41 L59.26,206.62 L59.26,209.20 Z M60.80,209.20 L60.80,205.43 L61.52,206.39 L62.24,205.92 L62.96,206.06 L62.96,209.20 Z M65.27,209.20 L65.27,208.32 L66.05,207.97 L66.83,208.28 L67.61,208.02 L67.61,209.20 Z M69.05,209.20 L69.05,208.63 L69.73,208.53 L70.42,208.68 L71.10,208.67 L71.10,209.20 Z M74.66,209.20 L74.66,208.53 L75.38,208.49 L76.10,208.63 L76.10,209.20 Z M79.12,209.20 L79.12,208.19 L79.98,208.45 L80.84,208.19 L80.84,209.20 Z M85.27,209.20 L85.27,207.06 L86.04,205.72 L86.80,207.34 L87.57,206.94 L87.57,209.20 Z M91.88,209.20 L91.88,207.87 L92.32,207.80 L92.77,208.03 L92.77,209.20 Z M95.28,209.20 L95.28,208.54 L96.15,208.57 L97.01,207.80 L97.01,209.20 Z M100.59,209.20 L100.59,208.65 L101.22,208.31 L101.85,208.65 L101.85,209.20 Z M105.80,209.20 L105.80,208.75 L106.52,208.61 L107.24,208.67 L107.96,208.58 L108.68,208.71 L108.68,209.20 Z M112.90,209.20 L112.90,208.57 L113.56,208.52 L114.22,208.61 L114.88,208.67 L114.88,209.20 Z M119.39,209.20 L119.39,208.70 L120.08,208.90 L120.76,208.77 L121.44,208.81 L122.13,208.71 L122.81,208.62 L122.81,209.20 Z M127.28,209.20 L127.28,208.48 L128.04,208.57 L128.81,208.67 L128.81,209.20 Z M130.44,209.20 L130.44,206.86 L130.91,206.21 L131.38,206.36 L131.38,209.20 Z M135.44,209.20 L135.44,208.78 L136.05,208.69 L136.66,208.54 L137.27,208.52 L137.88,208.54 L138.49,208.62 L138.49,209.20 Z M141.50,209.20 L141.50,207.90 L142.18,208.03 L142.85,207.83 L142.85,209.20 Z M147.77,209.20 L147.77,208.79 L148.46,208.64 L149.15,208.61 L149.83,208.79 L150.52,208.51 L151.21,208.71 L151.21,209.20 Z M155.32,209.20 L155.32,208.87 L155.79,208.51 L156.27,208.64 L156.27,209.20 Z M161.09,209.20 L161.09,208.69 L161.71,208.68 L162.34,208.77 L162.96,208.82 L163.59,208.55 L163.59,209.20 Z M165.98,209.20 L165.98,208.17 L166.67,207.98 L167.36,208.11 L168.05,208.11 L168.05,209.20 Z M171.78,209.20 L171.78,208.77 L172.32,208.46 L172.86,208.67 L172.86,209.20 Z M177.72,209.20 L177.72,208.04 L178.44,207.75 L179.16,207.87 L179.87,207.93 L179.87,209.20 Z M181.20,209.20 L181.20,207.88 L181.80,207.19 L182.39,207.61 L182.39,209.20 Z M186.72,209.20 L186.72,206.41 L187.44,205.82 L188.17,206.90 L188.89,207.23 L189.61,207.57 L189.61,209.20 Z M191.77,209.20 L191.77,208.51 L192.43,208.53 L193.09,208.11 L193.75,208.03 L194.41,208.21 L195.07,208.54 L195.07,209.20 Z M197.27,209.20 L197.27,207.50 L197.92,208.13 L198.57,207.67 L199.22,208.21 L199.87,208.09 L200.52,207.34 L200.52,209.20 Z M202.53,209.20 L202.53,208.51 L203.34,208.59 L204.15,208.63 L204.15,209.20 Z M208.59,209.20 L208.59,206.50 L209.29,207.39 L209.98,207.51 L210.68,206.95 L210.68,209.20 Z M213.58,209.20 L213.58,207.86 L214.18,207.99 L214.78,208.31 L215.39,207.86 L215.99,207.63 L216.59,207.96 L216.59,209.20 Z M220.49,209.20 L220.49,208.72 L221.22,208.65 L221.95,208.59 L221.95,209.20 Z M224.95,209.20 L224.95,208.89 L225.72,208.86 L226.50,208.77 L227.27,208.81 L227.27,209.20 Z M229.01,209.20 L229.01,208.45 L229.89,208.39 L230.76,208.36 L230.76,209.20 Z M234.76,209.20 L234.76,208.44 L235.18,208.58 L235.59,208.50 L235.59,209.20 Z " stroke="none" fill="#1c3f72" stroke-width="1" />
<path d="M90.70,209.20 L91.55,204.70 L92.05,204.70 L92.90,209.20 Z M131.10,209.20 L131.95,205.70 L132.45,205.70 L133.30,209.20 Z M197.30,209.20 L198.15,204.20 L198.65,204.20 L199.50,209.20 Z " stroke="none" fill="#1f4478" stroke-width="1" />
<text x="17.60" y="218.30" font-size="7" fill="#444" textLength="23.00" lengthAdjust="spacingAndGlyphs" stroke="#444" stroke-width="0.22" >[0 - 1.9]</text>
<line x1="19.20" y1="223.00" x2="237.40" y2="223.00" stroke="#3a5e92" stroke-width="0.55" />
<path d="M24.05,223.00 L24.05,222.04 L24.70,221.93 L25.34,221.52 L25.99,221.43 L26.64,222.27 L27.29,222.11 L27.29,223.00 Z M31.89,223.00 L31.89,222.12 L32.46,221.85 L33.02,221.66 L33.02,223.00 Z M36.43,223.00 L36.43,222.42 L37.06,222.41 L37.70,222.51 L38.33,222.49 L38.33,223.00 Z M41.57,223.00 L41.57,222.50 L42.33,222.69 L43.09,222.49 L43.09,223.00 Z M47.34,223.00 L47.34,222.54 L47.96,222.33 L48.58,222.57 L49.21,222.30 L49.83,222.63 L50.45,222.36 L50.45,223.00 Z M51.81,223.00 L51.81,221.43 L52.48,221.32 L53.14,220.96 L53.81,220.85 L54.48,221.91 L54.48,223.00 Z M57.67,223.00 L57.67,222.60 L58.12,222.60 L58.58,222.37 L58.58,223.00 Z M60.10,223.00 L60.10,222.41 L60.71,222.64 L61.33,222.71 L61.33,223.00 Z M64.89,223.00 L64.89,222.00 L65.59,222.01 L66.29,221.85 L67.00,222.19 L67.70,221.75 L67.70,223.00 Z M71.53,223.00 L71.53,220.58 L72.18,221.09 L72.82,221.09 L73.46,220.75 L74.10,221.00 L74.74,221.88 L74.74,223.00 Z M79.42,223.00 L79.42,222.34 L80.10,222.55 L80.78,222.26 L80.78,223.00 Z M84.22,223.00 L84.22,222.23 L84.84,222.03 L85.45,221.72 L86.07,221.97 L86.68,221.81 L87.30,222.46 L87.30,223.00 Z M91.12,223.00 L91.12,222.60 L91.82,222.66 L92.51,222.70 L92.51,223.00 Z M94.51,223.00 L94.51,222.38 L95.24,222.68 L95.96,222.63 L95.96,223.00 Z M97.37,223.00 L97.37,222.50 L98.11,222.62 L98.84,222.64 L99.58,222.52 L99.58,223.00 Z M101.06,223.00 L101.06,222.26 L101.71,222.15 L102.37,221.87 L103.02,222.19 L103.68,222.26 L104.33,222.38 L104.33,223.00 Z M106.98,223.00 L106.98,222.25 L107.72,221.76 L108.46,222.37 L109.20,222.19 L109.94,221.86 L109.94,223.00 Z M114.62,223.00 L114.62,222.51 L115.32,222.57 L116.01,222.72 L116.71,222.60 L116.71,223.00 Z M121.26,223.00 L121.26,222.66 L121.71,222.41 L122.16,222.60 L122.16,223.00 Z M125.97,223.00 L125.97,222.56 L126.64,222.69 L127.31,222.42 L127.98,222.54 L128.66,222.59 L128.66,223.00 Z M132.94,223.00 L132.94,222.70 L133.56,222.61 L134.18,222.61 L134.81,222.56 L135.43,222.57 L136.05,222.35 L136.05,223.00 Z M139.80,223.00 L139.80,222.28 L140.50,222.01 L141.19,222.34 L141.89,222.00 L142.59,222.35 L143.29,221.72 L143.29,223.00 Z M145.64,223.00 L145.64,222.64 L146.30,222.62 L146.96,222.38 L147.62,222.38 L148.28,222.42 L148.95,222.49 L148.95,223.00 Z M150.70,223.00 L150.70,222.37 L151.43,222.69 L152.17,222.45 L152.17,223.00 Z M153.37,223.00 L153.37,222.34 L154.17,222.43 L154.97,221.79 L154.97,223.00 Z M157.26,223.00 L157.26,221.35 L157.67,221.79 L158.08,222.30 L158.08,223.00 Z M160.86,223.00 L160.86,222.54 L161.49,222.41 L162.12,222.44 L162.74,222.37 L163.37,222.32 L163.37,223.00 Z M166.54,223.00 L166.54,222.53 L167.25,222.46 L167.96,222.36 L168.67,222.55 L169.38,222.56 L170.09,222.38 L170.09,223.00 Z M173.08,223.00 L173.08,222.48 L173.56,222.27 L174.04,222.18 L174.04,223.00 Z M175.42,223.00 L175.42,220.57 L176.26,220.61 L177.10,221.26 L177.10,223.00 Z M181.93,223.00 L181.93,221.38 L182.56,221.25 L183.20,221.93 L183.83,222.06 L184.47,222.09 L185.10,222.04 L185.10,223.00 Z M188.24,223.00 L188.24,221.95 L188.93,221.97 L189.62,221.84 L190.31,222.32 L191.00,222.16 L191.69,221.85 L191.69,223.00 Z M194.14,223.00 L194.14,222.58 L194.83,222.55 L195.52,222.47 L196.21,222.64 L196.90,222.20 L196.90,223.00 Z M199.45,223.00 L199.45,222.14 L200.18,221.18 L200.92,221.58 L200.92,223.00 Z M202.46,223.00 L202.46,221.56 L203.10,221.06 L203.74,221.28 L204.38,220.43 L204.38,223.00 Z M206.33,223.00 L206.33,222.23 L206.97,222.62 L207.60,222.57 L208.24,222.67 L208.87,222.66 L209.51,222.59 L209.51,223.00 Z M212.94,223.00 L212.94,222.05 L213.72,221.67 L214.50,221.26 L215.28,221.96 L215.28,223.00 Z M217.38,223.00 L217.38,220.47 L218.04,220.75 L218.70,220.75 L218.70,223.00 Z M220.20,223.00 L220.20,222.10 L220.91,221.84 L221.63,221.45 L221.63,223.00 Z M223.52,223.00 L223.52,221.37 L224.23,221.27 L224.94,221.18 L225.65,221.56 L225.65,223.00 Z M227.70,223.00 L227.70,221.48 L228.45,221.31 L229.19,221.48 L229.93,220.28 L229.93,223.00 Z M231.50,223.00 L231.50,221.91 L232.11,222.15 L232.73,221.89 L232.73,223.00 Z " stroke="none" fill="#1c3f72" stroke-width="1" />
<path d="M109.00,223.00 L109.75,221.80 L110.25,221.80 L111.00,223.00 Z " stroke="none" fill="#1f4478" stroke-width="1" />
<line x1="111.00" y1="234.60" x2="145.60" y2="234.60" stroke="#8aa0c0" stroke-width="0.6" />
<rect x="110.50" y="232.90" width="5.20" height="3.50" fill="#1f3f70"/>
<rect x="115.70" y="233.60" width="2.20" height="2.00" fill="#1f3f70"/>
<line x1="125.60" y1="232.90" x2="125.60" y2="236.30" stroke="#3d5f8f" stroke-width="0.9" />
<rect x="129.00" y="233.10" width="3.30" height="3.00" fill="#3d5f8f"/>
<line x1="145.80" y1="232.60" x2="145.80" y2="236.60" stroke="#3d5f8f" stroke-width="0.8" />
<line x1="119.00" y1="234.60" x2="120.60" y2="234.60" stroke="#4a6a98" stroke-width="0.7" />
<line x1="122.00" y1="234.60" x2="123.60" y2="234.60" stroke="#4a6a98" stroke-width="0.7" />
<line x1="135.00" y1="234.60" x2="136.60" y2="234.60" stroke="#4a6a98" stroke-width="0.7" />
<line x1="138.50" y1="234.60" x2="140.10" y2="234.60" stroke="#4a6a98" stroke-width="0.7" />
<line x1="142.00" y1="234.60" x2="143.60" y2="234.60" stroke="#4a6a98" stroke-width="0.7" />
<path d="M161.6,237 L161.6,246.6 L150.5,246.6" stroke="#111" fill="none" stroke-width="1.0" />
<path d="M146.6,246.6 L151.2,244.4 L151.2,248.8 Z" stroke="none" fill="#111" stroke-width="1" />
<text x="126.00" y="249.30" font-size="7" fill="#333" textLength="16.00" lengthAdjust="spacingAndGlyphs" stroke="#333" stroke-width="0.22" >CCR7</text>
<text x="241.70" y="157.20" font-size="7.5" fill="#222" textLength="38.20" lengthAdjust="spacingAndGlyphs" stroke="#222" stroke-width="0.22" >p300_DMSO</text>
<text x="244.80" y="169.60" font-size="7.5" fill="#222" textLength="31.80" lengthAdjust="spacingAndGlyphs" stroke="#222" stroke-width="0.22" >p300_BETi</text>
<text x="250.30" y="194.80" font-size="7.5" fill="#222" textLength="26.50" lengthAdjust="spacingAndGlyphs" stroke="#222" stroke-width="0.22" >DMSO_lt</text>
<text x="244.80" y="207.10" font-size="7.5" fill="#e0408a" textLength="32.60" lengthAdjust="spacingAndGlyphs" stroke="#e0408a" stroke-width="0.22" >BETi_IC50r</text>
<text x="244.80" y="219.80" font-size="7.5" fill="#5a3a78" textLength="32.60" lengthAdjust="spacingAndGlyphs" stroke="#5a3a78" stroke-width="0.22" >BETi_IC90r</text>
<text x="271.60" y="145.20" font-size="12.3" fill="#111" font-weight="bold" >D</text>
<text x="360.50" y="143.30" font-size="10" fill="#222" textLength="63.30" lengthAdjust="spacingAndGlyphs" stroke="#222" stroke-width="0.22" >Chr 11  - 420 Kb</text>
<text x="502.00" y="153.80" font-size="7" fill="#444" text-anchor="end" textLength="22.50" lengthAdjust="spacingAndGlyphs" stroke="#444" stroke-width="0.22" >[0 - 1.5]</text>
<line x1="283.75" y1="158.00" x2="501.00" y2="158.00" stroke="#1f4478" stroke-width="1.0" />
<path d="M284.00,158.00 L284.00,156.95 L284.39,156.02 L284.77,156.79 L284.77,158.00 Z M284.98,158.00 L284.98,157.49 L285.52,157.29 L286.05,157.15 L286.05,158.00 Z M286.49,158.00 L286.49,156.87 L287.29,157.16 L288.10,157.37 L288.10,158.00 Z M288.82,158.00 L288.82,156.70 L289.51,157.22 L290.21,157.20 L290.21,158.00 Z M290.56,158.00 L290.56,156.35 L291.13,155.66 L291.70,156.78 L291.70,158.00 Z M292.17,158.00 L292.17,155.91 L292.86,156.84 L293.55,156.27 L293.55,158.00 Z M294.03,158.00 L294.03,156.50 L294.77,156.39 L295.51,156.17 L295.51,158.00 Z M296.27,158.00 L296.27,156.74 L297.16,157.37 L298.06,156.87 L298.06,158.00 Z M299.34,158.00 L299.34,156.70 L299.95,156.71 L300.56,156.80 L300.56,158.00 Z M301.17,158.00 L301.17,157.14 L301.76,157.30 L302.34,157.03 L302.34,158.00 Z M302.57,158.00 L302.57,157.26 L303.11,156.79 L303.65,156.95 L303.65,158.00 Z M304.62,158.00 L304.62,157.49 L305.11,157.11 L305.59,156.79 L305.59,158.00 Z M306.68,158.00 L306.68,156.39 L307.06,156.71 L307.45,155.87 L307.45,158.00 Z M308.19,158.00 L308.19,156.38 L308.49,156.20 L308.78,156.80 L308.78,158.00 Z M309.00,158.00 L309.00,155.69 L309.86,156.72 L310.73,156.55 L310.73,158.00 Z M311.09,158.00 L311.09,156.37 L311.35,156.99 L311.61,156.65 L311.61,158.00 Z M312.36,158.00 L312.36,157.18 L312.95,156.49 L313.53,157.21 L313.53,158.00 Z M314.27,158.00 L314.27,157.50 L314.99,156.79 L315.71,157.00 L315.71,158.00 Z M316.14,158.00 L316.14,156.91 L316.82,157.48 L317.50,157.43 L317.50,158.00 Z M317.97,158.00 L317.97,156.55 L318.63,155.71 L319.28,156.28 L319.28,158.00 Z M320.03,158.00 L320.03,156.92 L320.72,157.21 L321.41,157.35 L321.41,158.00 Z M322.38,158.00 L322.38,156.84 L322.97,156.96 L323.55,157.20 L323.55,158.00 Z M324.70,158.00 L324.70,157.48 L325.45,157.17 L326.20,157.21 L326.20,158.00 Z M327.21,158.00 L327.21,157.22 L327.56,156.77 L327.92,157.49 L327.92,158.00 Z M329.26,158.00 L329.26,157.34 L329.90,157.04 L330.54,157.05 L330.54,158.00 Z M330.80,158.00 L330.80,155.23 L331.31,155.66 L331.82,156.20 L331.82,158.00 Z M333.06,158.00 L333.06,156.20 L333.34,156.93 L333.61,156.64 L333.61,158.00 Z M334.31,158.00 L334.31,156.98 L335.08,156.33 L335.84,156.71 L335.84,158.00 Z M336.98,158.00 L336.98,157.15 L337.46,157.29 L337.94,156.78 L337.94,158.00 Z M338.93,158.00 L338.93,156.46 L339.44,156.15 L339.94,157.09 L339.94,158.00 Z M340.26,158.00 L340.26,155.57 L341.08,155.90 L341.91,155.16 L341.91,158.00 Z M343.17,158.00 L343.17,156.12 L343.48,156.80 L343.79,156.12 L343.79,158.00 Z M345.09,158.00 L345.09,156.85 L345.66,156.64 L346.23,156.78 L346.23,158.00 Z M347.62,158.00 L347.62,157.32 L348.18,156.84 L348.75,156.97 L348.75,158.00 Z M349.68,158.00 L349.68,155.78 L350.58,155.98 L351.47,156.54 L351.47,158.00 Z M352.28,158.00 L352.28,156.37 L352.74,156.79 L353.20,156.55 L353.20,158.00 Z M354.13,158.00 L354.13,155.90 L354.66,156.37 L355.20,156.25 L355.20,158.00 Z M356.20,158.00 L356.20,157.46 L357.03,157.05 L357.85,157.31 L357.85,158.00 Z M358.23,158.00 L358.23,157.05 L359.06,156.19 L359.89,156.74 L359.89,158.00 Z M360.12,158.00 L360.12,156.84 L360.39,157.01 L360.66,156.93 L360.66,158.00 Z M361.65,158.00 L361.65,157.10 L362.38,157.06 L363.11,156.83 L363.11,158.00 Z M363.74,158.00 L363.74,157.12 L364.48,157.06 L365.21,157.41 L365.21,158.00 Z M365.52,158.00 L365.52,157.15 L366.19,156.82 L366.85,157.03 L366.85,158.00 Z M367.84,158.00 L367.84,157.33 L368.48,157.26 L369.13,157.33 L369.13,158.00 Z M369.56,158.00 L369.56,156.48 L370.14,156.69 L370.73,157.15 L370.73,158.00 Z M371.40,158.00 L371.40,156.79 L371.89,157.35 L372.38,156.97 L372.38,158.00 Z M372.80,158.00 L372.80,156.77 L373.36,156.94 L373.93,156.84 L373.93,158.00 Z M375.32,158.00 L375.32,156.87 L375.77,156.71 L376.22,156.56 L376.22,158.00 Z M377.06,158.00 L377.06,156.60 L377.57,156.12 L378.08,156.72 L378.08,158.00 Z M379.00,158.00 L379.00,156.96 L379.53,156.83 L380.06,157.18 L380.06,158.00 Z M380.30,158.00 L380.30,156.89 L381.16,157.40 L382.03,156.93 L382.03,158.00 Z M383.19,158.00 L383.19,156.56 L383.63,157.34 L384.07,156.97 L384.07,158.00 Z M384.30,158.00 L384.30,156.89 L384.79,156.16 L385.29,156.14 L385.29,158.00 Z M386.48,158.00 L386.48,156.22 L387.25,155.92 L388.02,156.16 L388.02,158.00 Z M388.53,158.00 L388.53,156.54 L388.80,155.99 L389.07,156.99 L389.07,158.00 Z M389.64,158.00 L389.64,157.06 L390.33,157.01 L391.01,157.09 L391.01,158.00 Z M392.25,158.00 L392.25,157.23 L393.13,157.41 L394.01,157.08 L394.01,158.00 Z M395.41,158.00 L395.41,157.37 L395.92,157.23 L396.44,156.85 L396.44,158.00 Z M397.48,158.00 L397.48,156.50 L398.26,155.83 L399.05,155.45 L399.05,158.00 Z M400.24,158.00 L400.24,157.25 L400.99,157.10 L401.75,157.37 L401.75,158.00 Z M402.79,158.00 L402.79,157.33 L403.57,156.86 L404.36,156.50 L404.36,158.00 Z M404.67,158.00 L404.67,157.30 L405.37,156.59 L406.06,156.99 L406.06,158.00 Z M407.29,158.00 L407.29,157.23 L407.59,156.96 L407.90,157.47 L407.90,158.00 Z M408.95,158.00 L408.95,157.47 L409.27,157.13 L409.58,156.90 L409.58,158.00 Z M410.98,158.00 L410.98,156.89 L411.31,156.81 L411.65,156.99 L411.65,158.00 Z M412.09,158.00 L412.09,156.79 L412.42,156.89 L412.75,156.85 L412.75,158.00 Z M413.04,158.00 L413.04,156.13 L413.55,156.63 L414.05,156.42 L414.05,158.00 Z M414.97,158.00 L414.97,155.51 L415.68,155.15 L416.39,155.88 L416.39,158.00 Z M417.36,158.00 L417.36,157.40 L418.10,157.02 L418.84,157.24 L418.84,158.00 Z M419.14,158.00 L419.14,157.07 L419.62,157.12 L420.11,157.00 L420.11,158.00 Z M420.75,158.00 L420.75,156.97 L421.15,156.65 L421.54,156.93 L421.54,158.00 Z M422.22,158.00 L422.22,157.12 L422.77,157.25 L423.33,157.02 L423.33,158.00 Z M424.05,158.00 L424.05,156.81 L424.86,156.86 L425.67,156.97 L425.67,158.00 Z M425.90,158.00 L425.90,156.81 L426.62,157.23 L427.33,157.00 L427.33,158.00 Z M428.48,158.00 L428.48,157.42 L428.98,156.98 L429.48,157.26 L429.48,158.00 Z M430.03,158.00 L430.03,156.50 L430.71,156.22 L431.38,156.27 L431.38,158.00 Z M432.71,158.00 L432.71,156.95 L432.97,157.20 L433.22,156.70 L433.22,158.00 Z M434.35,158.00 L434.35,157.07 L434.94,157.27 L435.52,156.73 L435.52,158.00 Z M436.03,158.00 L436.03,156.99 L436.90,157.33 L437.77,157.13 L437.77,158.00 Z M438.84,158.00 L438.84,157.30 L439.74,157.43 L440.64,157.24 L440.64,158.00 Z M441.53,158.00 L441.53,155.59 L442.28,156.20 L443.03,155.57 L443.03,158.00 Z M444.40,158.00 L444.40,157.25 L445.28,156.69 L446.16,157.20 L446.16,158.00 Z M446.51,158.00 L446.51,156.52 L446.92,157.25 L447.33,156.83 L447.33,158.00 Z M448.43,158.00 L448.43,157.07 L449.16,157.30 L449.89,157.28 L449.89,158.00 Z M450.66,158.00 L450.66,155.58 L451.16,156.18 L451.65,156.25 L451.65,158.00 Z M452.28,158.00 L452.28,156.94 L453.06,156.75 L453.83,156.77 L453.83,158.00 Z M454.58,158.00 L454.58,156.99 L455.34,157.01 L456.09,156.99 L456.09,158.00 Z M457.02,158.00 L457.02,156.97 L457.66,156.26 L458.30,156.13 L458.30,158.00 Z M458.98,158.00 L458.98,155.80 L459.27,156.45 L459.56,155.70 L459.56,158.00 Z M460.19,158.00 L460.19,156.41 L460.49,157.06 L460.78,157.12 L460.78,158.00 Z M461.43,158.00 L461.43,156.45 L461.87,157.31 L462.30,157.12 L462.30,158.00 Z M462.60,158.00 L462.60,156.24 L462.90,156.65 L463.19,156.56 L463.19,158.00 Z M464.13,158.00 L464.13,157.10 L464.44,156.88 L464.75,157.37 L464.75,158.00 Z M465.30,158.00 L465.30,156.59 L466.08,156.55 L466.85,156.10 L466.85,158.00 Z M467.97,158.00 L467.97,156.90 L468.61,156.92 L469.25,157.17 L469.25,158.00 Z M470.37,158.00 L470.37,156.85 L471.09,157.17 L471.82,157.35 L471.82,158.00 Z M472.71,158.00 L472.71,157.14 L473.02,156.48 L473.33,157.33 L473.33,158.00 Z M474.53,158.00 L474.53,156.48 L475.39,156.62 L476.25,156.55 L476.25,158.00 Z M476.70,158.00 L476.70,156.63 L477.33,156.94 L477.96,156.95 L477.96,158.00 Z M479.28,158.00 L479.28,155.56 L479.87,155.62 L480.47,155.80 L480.47,158.00 Z M481.21,158.00 L481.21,157.28 L481.59,157.25 L481.97,157.10 L481.97,158.00 Z M482.41,158.00 L482.41,157.33 L483.11,157.32 L483.82,157.45 L483.82,158.00 Z M485.07,158.00 L485.07,155.28 L485.66,156.38 L486.25,155.68 L486.25,158.00 Z M487.33,158.00 L487.33,156.83 L487.94,157.46 L488.55,156.97 L488.55,158.00 Z M489.23,158.00 L489.23,156.97 L489.73,157.35 L490.22,156.80 L490.22,158.00 Z M491.49,158.00 L491.49,156.59 L492.21,156.73 L492.93,156.69 L492.93,158.00 Z M494.19,158.00 L494.19,156.85 L494.88,156.93 L495.58,156.42 L495.58,158.00 Z M496.75,158.00 L496.75,155.80 L497.46,155.61 L498.16,156.86 L498.16,158.00 Z M498.54,158.00 L498.54,157.43 L498.95,157.33 L499.36,157.34 L499.36,158.00 Z M499.64,158.00 L499.64,156.31 L500.08,157.03 L500.52,156.53 L500.52,158.00 Z " stroke="none" fill="#1a3a70" stroke-width="1" />
<path d="M377.40,158.00 L377.85,155.50 L378.15,155.50 L378.60,158.00 Z " stroke="none" fill="#26385e" stroke-width="1" />
<text x="502.00" y="168.80" font-size="7" fill="#444" text-anchor="end" textLength="22.50" lengthAdjust="spacingAndGlyphs" stroke="#444" stroke-width="0.22" >[0 - 1.5]</text>
<line x1="283.75" y1="172.50" x2="501.00" y2="172.50" stroke="#1f4478" stroke-width="1.0" />
<path d="M284.03,172.50 L284.03,171.76 L284.49,171.39 L284.95,171.44 L284.95,172.50 Z M285.72,172.50 L285.72,170.92 L286.46,171.18 L287.20,171.67 L287.20,172.50 Z M288.08,172.50 L288.08,171.50 L288.64,170.95 L289.20,171.53 L289.20,172.50 Z M289.76,172.50 L289.76,171.76 L290.16,171.27 L290.57,171.34 L290.57,172.50 Z M290.80,172.50 L290.80,171.47 L291.43,171.65 L292.05,171.55 L292.05,172.50 Z M293.17,172.50 L293.17,171.19 L293.92,171.46 L294.68,170.80 L294.68,172.50 Z M295.52,172.50 L295.52,171.00 L296.35,170.61 L297.18,170.09 L297.18,172.50 Z M297.88,172.50 L297.88,171.66 L298.76,171.32 L299.64,171.24 L299.64,172.50 Z M300.45,172.50 L300.45,171.30 L300.86,170.84 L301.27,171.27 L301.27,172.50 Z M301.70,172.50 L301.70,170.74 L302.34,170.58 L302.97,170.62 L302.97,172.50 Z M303.80,172.50 L303.80,171.03 L304.05,171.38 L304.31,171.12 L304.31,172.50 Z M305.65,172.50 L305.65,170.83 L305.93,171.54 L306.20,171.22 L306.20,172.50 Z M306.99,172.50 L306.99,170.74 L307.54,169.99 L308.09,170.64 L308.09,172.50 Z M309.42,172.50 L309.42,171.29 L310.31,171.87 L311.19,171.69 L311.19,172.50 Z M312.46,172.50 L312.46,171.98 L312.99,171.21 L313.52,171.31 L313.52,172.50 Z M314.88,172.50 L314.88,171.29 L315.35,171.86 L315.82,171.37 L315.82,172.50 Z M316.20,172.50 L316.20,171.15 L316.58,170.03 L316.95,170.50 L316.95,172.50 Z M317.87,172.50 L317.87,171.12 L318.53,171.90 L319.20,171.16 L319.20,172.50 Z M320.04,172.50 L320.04,171.29 L320.68,171.54 L321.32,171.33 L321.32,172.50 Z M322.29,172.50 L322.29,170.36 L322.75,171.41 L323.20,171.31 L323.20,172.50 Z M324.41,172.50 L324.41,171.54 L325.01,171.52 L325.61,171.40 L325.61,172.50 Z M326.38,172.50 L326.38,171.29 L327.24,171.43 L328.09,171.69 L328.09,172.50 Z M328.41,172.50 L328.41,170.64 L328.76,170.83 L329.10,171.45 L329.10,172.50 Z M329.42,172.50 L329.42,171.74 L329.99,171.95 L330.55,171.79 L330.55,172.50 Z M331.42,172.50 L331.42,171.75 L332.19,171.72 L332.96,171.81 L332.96,172.50 Z M333.65,172.50 L333.65,171.73 L333.90,171.24 L334.15,171.70 L334.15,172.50 Z M335.18,172.50 L335.18,170.98 L335.93,171.15 L336.67,170.85 L336.67,172.50 Z M337.31,172.50 L337.31,171.81 L337.76,171.29 L338.20,171.48 L338.20,172.50 Z M338.48,172.50 L338.48,171.58 L338.95,171.54 L339.42,171.21 L339.42,172.50 Z M339.80,172.50 L339.80,171.08 L340.42,170.75 L341.04,170.55 L341.04,172.50 Z M341.38,172.50 L341.38,169.66 L341.92,169.67 L342.46,171.28 L342.46,172.50 Z M343.46,172.50 L343.46,171.68 L344.19,171.29 L344.92,171.58 L344.92,172.50 Z M346.22,172.50 L346.22,170.16 L346.67,170.70 L347.13,170.13 L347.13,172.50 Z M348.41,172.50 L348.41,171.81 L349.13,171.39 L349.85,171.25 L349.85,172.50 Z M350.78,172.50 L350.78,170.69 L351.19,171.11 L351.59,170.71 L351.59,172.50 Z M352.60,172.50 L352.60,171.24 L353.47,171.41 L354.34,171.87 L354.34,172.50 Z M354.74,172.50 L354.74,170.94 L355.23,171.14 L355.73,170.59 L355.73,172.50 Z M356.56,172.50 L356.56,170.40 L357.19,171.35 L357.83,171.46 L357.83,172.50 Z M358.60,172.50 L358.60,170.36 L359.39,171.05 L360.18,170.18 L360.18,172.50 Z M361.40,172.50 L361.40,171.92 L362.14,171.58 L362.87,171.76 L362.87,172.50 Z M363.46,172.50 L363.46,170.62 L364.20,170.10 L364.93,170.42 L364.93,172.50 Z M365.32,172.50 L365.32,171.03 L365.83,171.53 L366.34,171.66 L366.34,172.50 Z M367.57,172.50 L367.57,171.60 L368.44,171.57 L369.31,171.83 L369.31,172.50 Z M370.28,172.50 L370.28,169.51 L370.55,170.38 L370.81,169.98 L370.81,172.50 Z M372.02,172.50 L372.02,170.44 L372.34,170.90 L372.67,170.41 L372.67,172.50 Z M373.16,172.50 L373.16,171.09 L373.42,171.65 L373.67,171.66 L373.67,172.50 Z M373.95,172.50 L373.95,171.50 L374.46,171.90 L374.96,171.84 L374.96,172.50 Z M375.18,172.50 L375.18,171.15 L376.04,171.03 L376.89,171.13 L376.89,172.50 Z M377.69,172.50 L377.69,170.66 L378.27,171.49 L378.85,170.70 L378.85,172.50 Z M379.09,172.50 L379.09,171.69 L379.62,171.86 L380.15,171.43 L380.15,172.50 Z M380.84,172.50 L380.84,171.78 L381.59,171.59 L382.34,171.60 L382.34,172.50 Z M382.67,172.50 L382.67,170.74 L383.33,170.59 L383.99,170.83 L383.99,172.50 Z M384.51,172.50 L384.51,171.76 L385.18,171.16 L385.85,171.52 L385.85,172.50 Z M386.33,172.50 L386.33,171.15 L386.99,171.18 L387.65,171.79 L387.65,172.50 Z M389.02,172.50 L389.02,170.51 L389.39,171.23 L389.75,170.65 L389.75,172.50 Z M390.54,172.50 L390.54,170.63 L390.93,170.19 L391.32,169.99 L391.32,172.50 Z M392.02,172.50 L392.02,170.47 L392.91,170.71 L393.81,170.37 L393.81,172.50 Z M394.16,172.50 L394.16,170.00 L394.50,170.34 L394.84,170.04 L394.84,172.50 Z M396.13,172.50 L396.13,170.57 L396.97,171.21 L397.81,170.62 L397.81,172.50 Z M399.03,172.50 L399.03,171.77 L399.70,171.64 L400.37,171.92 L400.37,172.50 Z M401.43,172.50 L401.43,169.82 L402.00,170.42 L402.57,170.92 L402.57,172.50 Z M403.47,172.50 L403.47,171.23 L404.37,171.30 L405.26,171.26 L405.26,172.50 Z M406.09,172.50 L406.09,170.40 L406.38,170.32 L406.68,170.11 L406.68,172.50 Z M407.37,172.50 L407.37,171.24 L408.01,171.20 L408.65,171.23 L408.65,172.50 Z M409.40,172.50 L409.40,171.53 L409.70,171.64 L410.00,171.55 L410.00,172.50 Z M411.16,172.50 L411.16,170.58 L412.02,170.79 L412.89,170.85 L412.89,172.50 Z M413.53,172.50 L413.53,169.72 L413.97,169.92 L414.42,171.11 L414.42,172.50 Z M415.57,172.50 L415.57,171.48 L416.03,171.16 L416.49,171.68 L416.49,172.50 Z M417.37,172.50 L417.37,171.18 L417.67,170.34 L417.96,171.12 L417.96,172.50 Z M418.77,172.50 L418.77,171.89 L419.02,171.75 L419.28,171.57 L419.28,172.50 Z M419.51,172.50 L419.51,171.69 L420.06,171.93 L420.60,171.61 L420.60,172.50 Z M421.27,172.50 L421.27,171.56 L421.80,170.63 L422.32,171.45 L422.32,172.50 Z M422.53,172.50 L422.53,170.70 L423.26,169.81 L423.98,170.46 L423.98,172.50 Z M424.46,172.50 L424.46,170.55 L424.74,170.24 L425.02,171.17 L425.02,172.50 Z M426.42,172.50 L426.42,171.41 L427.23,171.58 L428.05,171.10 L428.05,172.50 Z M428.86,172.50 L428.86,171.50 L429.66,171.52 L430.46,171.91 L430.46,172.50 Z M430.69,172.50 L430.69,170.45 L431.38,171.09 L432.07,169.62 L432.07,172.50 Z M432.68,172.50 L432.68,171.66 L433.16,171.36 L433.63,171.51 L433.63,172.50 Z M434.62,172.50 L434.62,171.18 L435.28,170.44 L435.95,171.55 L435.95,172.50 Z M436.53,172.50 L436.53,169.82 L437.15,169.50 L437.76,171.23 L437.76,172.50 Z M438.38,172.50 L438.38,171.00 L439.14,170.56 L439.91,170.82 L439.91,172.50 Z M440.34,172.50 L440.34,170.79 L440.63,171.36 L440.92,170.76 L440.92,172.50 Z M441.37,172.50 L441.37,171.86 L441.65,171.33 L441.93,171.34 L441.93,172.50 Z M442.66,172.50 L442.66,171.54 L443.46,171.00 L444.27,171.32 L444.27,172.50 Z M444.76,172.50 L444.76,171.29 L445.18,171.03 L445.59,171.68 L445.59,172.50 Z M446.46,172.50 L446.46,171.30 L447.07,171.40 L447.67,171.21 L447.67,172.50 Z M448.88,172.50 L448.88,171.78 L449.21,171.47 L449.54,171.90 L449.54,172.50 Z M450.38,172.50 L450.38,171.38 L450.90,171.32 L451.43,171.21 L451.43,172.50 Z M452.29,172.50 L452.29,170.65 L452.95,171.38 L453.62,171.38 L453.62,172.50 Z M454.46,172.50 L454.46,171.75 L455.08,171.41 L455.71,171.34 L455.71,172.50 Z M456.41,172.50 L456.41,170.99 L456.79,171.21 L457.16,171.52 L457.16,172.50 Z M457.75,172.50 L457.75,171.78 L458.37,170.90 L458.98,171.73 L458.98,172.50 Z M460.05,172.50 L460.05,171.54 L460.50,171.85 L460.96,171.76 L460.96,172.50 Z M461.58,172.50 L461.58,171.96 L461.92,171.73 L462.26,171.41 L462.26,172.50 Z M462.52,172.50 L462.52,171.24 L463.29,170.69 L464.06,171.14 L464.06,172.50 Z M465.42,172.50 L465.42,171.66 L465.67,170.95 L465.93,171.59 L465.93,172.50 Z M466.19,172.50 L466.19,171.19 L466.52,169.91 L466.86,170.01 L466.86,172.50 Z M467.40,172.50 L467.40,171.04 L468.25,171.66 L469.10,171.08 L469.10,172.50 Z M469.53,172.50 L469.53,171.21 L470.08,171.35 L470.63,171.74 L470.63,172.50 Z M471.28,172.50 L471.28,171.63 L471.67,171.67 L472.06,171.78 L472.06,172.50 Z M473.20,172.50 L473.20,169.85 L473.94,170.02 L474.67,170.68 L474.67,172.50 Z M475.81,172.50 L475.81,170.47 L476.41,171.14 L477.01,170.88 L477.01,172.50 Z M477.58,172.50 L477.58,171.16 L478.06,170.62 L478.54,170.32 L478.54,172.50 Z M479.06,172.50 L479.06,170.36 L479.84,170.78 L480.62,170.20 L480.62,172.50 Z M481.72,172.50 L481.72,171.10 L482.56,170.90 L483.39,169.48 L483.39,172.50 Z M484.42,172.50 L484.42,171.28 L485.25,171.86 L486.09,171.18 L486.09,172.50 Z M486.35,172.50 L486.35,171.37 L487.06,171.47 L487.76,171.91 L487.76,172.50 Z M488.01,172.50 L488.01,171.11 L488.55,170.47 L489.10,170.62 L489.10,172.50 Z M489.75,172.50 L489.75,171.19 L490.44,170.26 L491.14,170.60 L491.14,172.50 Z M491.46,172.50 L491.46,171.09 L492.27,171.87 L493.08,171.55 L493.08,172.50 Z M493.41,172.50 L493.41,171.47 L493.71,171.65 L494.02,171.18 L494.02,172.50 Z M494.84,172.50 L494.84,171.88 L495.37,171.57 L495.89,171.64 L495.89,172.50 Z M496.14,172.50 L496.14,171.50 L496.98,170.61 L497.82,170.96 L497.82,172.50 Z M498.63,172.50 L498.63,171.35 L499.10,171.48 L499.57,171.86 L499.57,172.50 Z " stroke="none" fill="#1a3a70" stroke-width="1" />
<path d="M402.40,172.50 L402.85,164.50 L403.15,164.50 L403.60,172.50 Z M354.40,172.50 L354.85,170.50 L355.15,170.50 L355.60,172.50 Z " stroke="none" fill="#26385e" stroke-width="1" />
<text x="502.00" y="190.50" font-size="7" fill="#444" text-anchor="end" textLength="22.50" lengthAdjust="spacingAndGlyphs" stroke="#444" stroke-width="0.22" >[0 - 2.8]</text>
<line x1="283.75" y1="194.50" x2="501.00" y2="194.50" stroke="#1f4478" stroke-width="1.0" />
<path d="M285.35,194.50 L285.35,194.15 L286.02,193.95 L286.69,193.83 L286.69,194.50 Z M287.71,194.50 L287.71,194.15 L288.52,194.24 L289.32,194.16 L289.32,194.50 Z M290.66,194.50 L290.66,193.77 L291.47,194.03 L292.27,194.12 L292.27,194.50 Z M293.36,194.50 L293.36,194.06 L294.08,193.92 L294.79,193.92 L294.79,194.50 Z M295.89,194.50 L295.89,194.26 L296.70,193.96 L297.51,193.97 L297.51,194.50 Z M299.12,194.50 L299.12,194.21 L299.40,193.96 L299.67,194.23 L299.67,194.50 Z M300.19,194.50 L300.19,193.88 L300.58,193.32 L300.98,193.80 L300.98,194.50 Z M302.38,194.50 L302.38,193.96 L302.76,193.92 L303.13,194.18 L303.13,194.50 Z M304.03,194.50 L304.03,194.16 L304.31,194.12 L304.60,194.10 L304.60,194.50 Z M305.50,194.50 L305.50,193.99 L305.85,193.99 L306.20,193.68 L306.20,194.50 Z M307.50,194.50 L307.50,193.01 L307.76,193.54 L308.02,193.00 L308.02,194.50 Z M308.50,194.50 L308.50,194.02 L309.34,194.08 L310.19,193.99 L310.19,194.50 Z M311.01,194.50 L311.01,193.79 L311.68,193.74 L312.36,193.41 L312.36,194.50 Z M312.88,194.50 L312.88,194.20 L313.17,194.11 L313.45,194.17 L313.45,194.50 Z M314.78,194.50 L314.78,194.13 L315.05,194.25 L315.32,194.30 L315.32,194.50 Z M315.72,194.50 L315.72,193.44 L316.39,193.89 L317.07,193.71 L317.07,194.50 Z M318.53,194.50 L318.53,194.13 L319.29,194.27 L320.06,194.11 L320.06,194.50 Z M321.64,194.50 L321.64,193.86 L322.22,193.56 L322.79,193.69 L322.79,194.50 Z M324.12,194.50 L324.12,193.94 L324.41,194.11 L324.71,193.97 L324.71,194.50 Z M325.05,194.50 L325.05,193.33 L325.57,193.46 L326.09,193.13 L326.09,194.50 Z M327.57,194.50 L327.57,193.90 L328.15,194.02 L328.73,194.05 L328.73,194.50 Z M329.66,194.50 L329.66,194.10 L330.01,194.12 L330.36,194.04 L330.36,194.50 Z M331.42,194.50 L331.42,194.04 L331.92,193.68 L332.42,193.85 L332.42,194.50 Z M333.23,194.50 L333.23,193.26 L333.80,193.45 L334.37,193.31 L334.37,194.50 Z M336.04,194.50 L336.04,194.03 L336.53,194.20 L337.02,193.98 L337.02,194.50 Z M338.26,194.50 L338.26,193.89 L339.02,193.98 L339.78,194.04 L339.78,194.50 Z M340.47,194.50 L340.47,193.71 L341.33,193.98 L342.18,193.97 L342.18,194.50 Z M342.82,194.50 L342.82,193.92 L343.67,193.92 L344.51,193.87 L344.51,194.50 Z M345.30,194.50 L345.30,193.76 L345.68,192.97 L346.07,193.53 L346.07,194.50 Z M346.40,194.50 L346.40,193.76 L346.85,193.94 L347.29,193.99 L347.29,194.50 Z M347.68,194.50 L347.68,193.98 L348.30,194.20 L348.92,194.13 L348.92,194.50 Z M350.16,194.50 L350.16,193.93 L350.62,193.62 L351.08,193.68 L351.08,194.50 Z M352.09,194.50 L352.09,193.91 L352.79,193.97 L353.50,194.14 L353.50,194.50 Z M355.25,194.50 L355.25,193.40 L355.91,193.24 L356.56,193.54 L356.56,194.50 Z M357.45,194.50 L357.45,193.46 L358.18,193.30 L358.90,193.39 L358.90,194.50 Z M359.77,194.50 L359.77,194.04 L360.15,193.88 L360.53,193.70 L360.53,194.50 Z M361.48,194.50 L361.48,193.34 L362.01,193.39 L362.54,193.71 L362.54,194.50 Z M364.11,194.50 L364.11,193.46 L364.60,193.54 L365.09,193.93 L365.09,194.50 Z M366.97,194.50 L366.97,194.28 L367.65,194.21 L368.34,194.11 L368.34,194.50 Z M369.46,194.50 L369.46,193.84 L369.71,193.15 L369.97,193.45 L369.97,194.50 Z M371.63,194.50 L371.63,193.85 L372.40,193.77 L373.18,193.96 L373.18,194.50 Z M373.92,194.50 L373.92,193.90 L374.19,193.97 L374.45,194.22 L374.45,194.50 Z M375.34,194.50 L375.34,193.94 L375.87,193.78 L376.40,194.09 L376.40,194.50 Z M377.79,194.50 L377.79,194.26 L378.46,194.27 L379.13,194.12 L379.13,194.50 Z M380.89,194.50 L380.89,193.57 L381.72,193.51 L382.54,193.48 L382.54,194.50 Z M383.35,194.50 L383.35,194.19 L383.91,194.18 L384.48,194.00 L384.48,194.50 Z M385.13,194.50 L385.13,194.28 L385.70,194.15 L386.27,194.13 L386.27,194.50 Z M387.46,194.50 L387.46,193.92 L388.35,193.81 L389.24,194.15 L389.24,194.50 Z M390.85,194.50 L390.85,193.34 L391.19,193.32 L391.53,193.26 L391.53,194.50 Z M391.90,194.50 L391.90,194.20 L392.21,193.85 L392.51,194.15 L392.51,194.50 Z M393.20,194.50 L393.20,194.04 L393.93,194.19 L394.65,194.14 L394.65,194.50 Z M396.37,194.50 L396.37,194.15 L396.67,194.04 L396.96,194.18 L396.96,194.50 Z M397.98,194.50 L397.98,193.93 L398.37,193.81 L398.75,194.15 L398.75,194.50 Z M400.00,194.50 L400.00,194.20 L400.86,194.02 L401.73,194.23 L401.73,194.50 Z M402.89,194.50 L402.89,194.19 L403.41,194.04 L403.93,194.09 L403.93,194.50 Z M404.65,194.50 L404.65,193.71 L405.29,193.16 L405.92,193.73 L405.92,194.50 Z M406.66,194.50 L406.66,193.81 L406.99,193.78 L407.32,193.85 L407.32,194.50 Z M408.64,194.50 L408.64,194.23 L409.01,193.94 L409.39,194.24 L409.39,194.50 Z M411.13,194.50 L411.13,193.63 L411.63,193.23 L412.13,193.39 L412.13,194.50 Z M413.75,194.50 L413.75,194.08 L414.03,193.73 L414.31,193.86 L414.31,194.50 Z M414.86,194.50 L414.86,194.09 L415.42,194.04 L415.97,194.22 L415.97,194.50 Z M417.07,194.50 L417.07,193.13 L417.60,193.70 L418.12,193.62 L418.12,194.50 Z M419.20,194.50 L419.20,193.13 L419.66,193.74 L420.11,193.16 L420.11,194.50 Z M421.84,194.50 L421.84,194.22 L422.65,193.94 L423.46,194.15 L423.46,194.50 Z M424.99,194.50 L424.99,194.11 L425.31,193.86 L425.64,194.04 L425.64,194.50 Z M426.04,194.50 L426.04,193.61 L426.84,193.82 L427.64,193.78 L427.64,194.50 Z M428.90,194.50 L428.90,194.03 L429.30,194.00 L429.69,193.91 L429.69,194.50 Z M430.86,194.50 L430.86,193.71 L431.49,193.81 L432.13,193.53 L432.13,194.50 Z M433.33,194.50 L433.33,194.04 L433.89,194.27 L434.46,194.02 L434.46,194.50 Z M435.89,194.50 L435.89,193.58 L436.79,193.45 L437.69,193.68 L437.69,194.50 Z M438.50,194.50 L438.50,193.95 L439.35,194.23 L440.21,194.20 L440.21,194.50 Z M441.94,194.50 L441.94,193.65 L442.60,193.95 L443.27,193.73 L443.27,194.50 Z M444.44,194.50 L444.44,193.45 L445.07,193.21 L445.69,193.25 L445.69,194.50 Z M446.16,194.50 L446.16,193.83 L447.04,193.87 L447.92,194.10 L447.92,194.50 Z M449.24,194.50 L449.24,193.91 L449.91,193.96 L450.59,193.95 L450.59,194.50 Z M451.51,194.50 L451.51,193.96 L452.38,193.81 L453.25,194.16 L453.25,194.50 Z M454.22,194.50 L454.22,193.95 L455.09,193.95 L455.96,193.87 L455.96,194.50 Z M456.42,194.50 L456.42,193.69 L456.90,193.81 L457.39,193.33 L457.39,194.50 Z M458.04,194.50 L458.04,193.45 L458.72,193.49 L459.40,193.80 L459.40,194.50 Z M460.68,194.50 L460.68,194.00 L461.32,193.96 L461.96,193.95 L461.96,194.50 Z M463.13,194.50 L463.13,193.38 L463.84,193.50 L464.55,193.60 L464.55,194.50 Z M464.96,194.50 L464.96,193.33 L465.77,193.09 L466.58,192.99 L466.58,194.50 Z M466.96,194.50 L466.96,193.87 L467.45,194.10 L467.95,193.95 L467.95,194.50 Z M468.83,194.50 L468.83,193.57 L469.12,193.45 L469.40,193.63 L469.40,194.50 Z M471.06,194.50 L471.06,194.18 L471.74,194.22 L472.42,194.12 L472.42,194.50 Z M474.09,194.50 L474.09,194.28 L474.70,194.11 L475.31,194.12 L475.31,194.50 Z M476.62,194.50 L476.62,194.06 L477.04,194.21 L477.47,194.15 L477.47,194.50 Z M479.01,194.50 L479.01,193.88 L479.33,193.44 L479.64,193.49 L479.64,194.50 Z M481.19,194.50 L481.19,193.16 L482.04,193.73 L482.88,193.17 L482.88,194.50 Z M483.37,194.50 L483.37,193.69 L483.75,193.38 L484.12,193.80 L484.12,194.50 Z M484.63,194.50 L484.63,193.24 L484.91,193.17 L485.19,193.54 L485.19,194.50 Z M486.79,194.50 L486.79,194.22 L487.29,194.12 L487.79,194.13 L487.79,194.50 Z M488.19,194.50 L488.19,194.24 L488.76,194.23 L489.34,194.11 L489.34,194.50 Z M491.32,194.50 L491.32,194.04 L492.05,193.92 L492.79,194.09 L492.79,194.50 Z M493.18,194.50 L493.18,193.59 L493.96,193.59 L494.74,193.51 L494.74,194.50 Z M496.36,194.50 L496.36,194.23 L496.77,194.18 L497.18,194.22 L497.18,194.50 Z M498.28,194.50 L498.28,193.96 L498.71,193.84 L499.13,194.05 L499.13,194.50 Z " stroke="none" fill="#1a3a70" stroke-width="1" />
<path d="M305.40,194.50 L305.85,193.50 L306.15,193.50 L306.60,194.50 Z " stroke="none" fill="#26385e" stroke-width="1" />
<text x="502.00" y="203.10" font-size="7" fill="#444" text-anchor="end" textLength="22.50" lengthAdjust="spacingAndGlyphs" stroke="#444" stroke-width="0.22" >[0 - 2.8]</text>
<line x1="283.75" y1="208.75" x2="501.00" y2="208.75" stroke="#1f4478" stroke-width="1.0" />
<path d="M284.20,208.75 L284.20,208.28 L285.00,207.97 L285.80,208.07 L285.80,208.75 Z M287.51,208.75 L287.51,207.82 L288.15,208.10 L288.80,208.26 L288.80,208.75 Z M290.63,208.75 L290.63,207.92 L290.95,208.24 L291.28,208.28 L291.28,208.75 Z M292.23,208.75 L292.23,208.10 L292.61,208.25 L292.99,207.90 L292.99,208.75 Z M293.73,208.75 L293.73,208.31 L294.10,208.44 L294.47,208.38 L294.47,208.75 Z M295.58,208.75 L295.58,208.36 L296.40,208.31 L297.21,208.47 L297.21,208.75 Z M298.25,208.75 L298.25,208.16 L298.72,208.42 L299.19,208.24 L299.19,208.75 Z M299.56,208.75 L299.56,208.32 L300.32,208.53 L301.08,208.49 L301.08,208.75 Z M301.83,208.75 L301.83,207.93 L302.26,208.25 L302.69,208.16 L302.69,208.75 Z M303.71,208.75 L303.71,208.10 L304.42,207.91 L305.13,207.83 L305.13,208.75 Z M307.05,208.75 L307.05,207.33 L307.94,207.56 L308.83,207.58 L308.83,208.75 Z M310.13,208.75 L310.13,207.95 L310.63,207.55 L311.13,207.90 L311.13,208.75 Z M311.47,208.75 L311.47,208.45 L312.27,208.08 L313.07,208.09 L313.07,208.75 Z M314.86,208.75 L314.86,208.47 L315.42,208.37 L315.97,208.33 L315.97,208.75 Z M317.21,208.75 L317.21,208.24 L317.62,208.24 L318.03,208.25 L318.03,208.75 Z M319.21,208.75 L319.21,208.35 L319.51,208.25 L319.81,208.30 L319.81,208.75 Z M320.30,208.75 L320.30,208.12 L321.14,207.93 L321.99,208.14 L321.99,208.75 Z M323.20,208.75 L323.20,208.27 L323.47,208.43 L323.74,208.32 L323.74,208.75 Z M324.67,208.75 L324.67,208.28 L325.17,208.47 L325.68,208.32 L325.68,208.75 Z M326.28,208.75 L326.28,208.34 L326.73,208.28 L327.18,208.36 L327.18,208.75 Z M328.57,208.75 L328.57,208.05 L328.98,207.92 L329.39,207.64 L329.39,208.75 Z M330.78,208.75 L330.78,208.34 L331.22,208.37 L331.66,208.17 L331.66,208.75 Z M332.94,208.75 L332.94,208.04 L333.76,208.12 L334.58,208.03 L334.58,208.75 Z M336.09,208.75 L336.09,207.98 L336.61,208.23 L337.14,208.27 L337.14,208.75 Z M337.99,208.75 L337.99,208.45 L338.59,208.51 L339.19,208.28 L339.19,208.75 Z M340.26,208.75 L340.26,208.41 L340.88,208.25 L341.50,208.29 L341.50,208.75 Z M343.35,208.75 L343.35,207.58 L343.71,207.92 L344.06,207.95 L344.06,208.75 Z M345.91,208.75 L345.91,208.30 L346.36,208.35 L346.80,208.37 L346.80,208.75 Z M347.82,208.75 L347.82,208.03 L348.54,207.71 L349.25,208.15 L349.25,208.75 Z M350.03,208.75 L350.03,208.41 L350.53,208.41 L351.03,208.48 L351.03,208.75 Z M352.10,208.75 L352.10,208.12 L352.66,208.23 L353.22,208.21 L353.22,208.75 Z M354.99,208.75 L354.99,208.09 L355.29,208.06 L355.58,207.84 L355.58,208.75 Z M357.56,208.75 L357.56,208.33 L357.96,208.40 L358.35,208.51 L358.35,208.75 Z M360.16,208.75 L360.16,208.28 L360.79,207.98 L361.42,208.32 L361.42,208.75 Z M362.16,208.75 L362.16,207.22 L362.78,207.93 L363.40,207.24 L363.40,208.75 Z M365.22,208.75 L365.22,208.49 L365.54,208.26 L365.85,208.48 L365.85,208.75 Z M367.07,208.75 L367.07,208.34 L367.75,208.24 L368.43,208.14 L368.43,208.75 Z M369.10,208.75 L369.10,208.05 L369.37,208.10 L369.64,208.43 L369.64,208.75 Z M371.18,208.75 L371.18,208.22 L372.02,208.23 L372.86,207.90 L372.86,208.75 Z M374.77,208.75 L374.77,208.18 L375.61,208.23 L376.45,208.37 L376.45,208.75 Z M377.06,208.75 L377.06,208.47 L377.40,208.31 L377.73,208.27 L377.73,208.75 Z M379.69,208.75 L379.69,208.37 L379.99,208.50 L380.29,208.50 L380.29,208.75 Z M381.59,208.75 L381.59,208.03 L382.29,208.19 L382.99,208.28 L382.99,208.75 Z M384.64,208.75 L384.64,208.38 L385.36,208.54 L386.08,208.41 L386.08,208.75 Z M387.80,208.75 L387.80,207.95 L388.68,208.14 L389.56,207.90 L389.56,208.75 Z M390.25,208.75 L390.25,208.00 L390.51,208.16 L390.78,208.14 L390.78,208.75 Z M392.40,208.75 L392.40,208.08 L393.11,208.08 L393.81,207.74 L393.81,208.75 Z M394.55,208.75 L394.55,208.32 L395.14,208.38 L395.73,208.23 L395.73,208.75 Z M396.57,208.75 L396.57,208.55 L396.93,208.48 L397.30,208.31 L397.30,208.75 Z M399.30,208.75 L399.30,208.10 L399.63,207.50 L399.97,207.83 L399.97,208.75 Z M400.45,208.75 L400.45,207.51 L400.90,207.64 L401.35,207.52 L401.35,208.75 Z M403.13,208.75 L403.13,207.55 L403.69,207.68 L404.26,207.80 L404.26,208.75 Z M406.02,208.75 L406.02,208.27 L406.31,208.31 L406.59,208.40 L406.59,208.75 Z M407.08,208.75 L407.08,208.31 L407.77,208.35 L408.46,208.53 L408.46,208.75 Z M409.28,208.75 L409.28,208.16 L410.09,208.20 L410.90,208.33 L410.90,208.75 Z M412.25,208.75 L412.25,207.61 L412.85,208.00 L413.46,208.11 L413.46,208.75 Z M414.74,208.75 L414.74,207.89 L415.07,208.15 L415.40,207.83 L415.40,208.75 Z M415.90,208.75 L415.90,208.33 L416.48,208.24 L417.05,208.19 L417.05,208.75 Z M418.13,208.75 L418.13,208.09 L418.55,208.00 L418.98,208.13 L418.98,208.75 Z M420.70,208.75 L420.70,208.36 L421.20,208.44 L421.70,208.51 L421.70,208.75 Z M422.45,208.75 L422.45,208.43 L422.93,208.36 L423.40,208.44 L423.40,208.75 Z M424.24,208.75 L424.24,208.44 L424.82,208.24 L425.40,208.47 L425.40,208.75 Z M427.20,208.75 L427.20,208.37 L427.95,208.42 L428.70,208.38 L428.70,208.75 Z M429.81,208.75 L429.81,208.13 L430.55,208.10 L431.29,208.42 L431.29,208.75 Z M431.68,208.75 L431.68,208.31 L432.01,208.37 L432.34,208.51 L432.34,208.75 Z M433.47,208.75 L433.47,207.68 L434.05,208.08 L434.64,208.01 L434.64,208.75 Z M435.00,208.75 L435.00,208.27 L435.79,208.47 L436.57,208.31 L436.57,208.75 Z M437.85,208.75 L437.85,208.33 L438.68,208.35 L439.50,208.54 L439.50,208.75 Z M440.35,208.75 L440.35,207.34 L440.88,207.43 L441.41,207.65 L441.41,208.75 Z M443.11,208.75 L443.11,207.99 L444.01,208.39 L444.91,208.37 L444.91,208.75 Z M445.80,208.75 L445.80,208.25 L446.53,208.30 L447.26,208.52 L447.26,208.75 Z M447.64,208.75 L447.64,207.61 L447.91,208.01 L448.18,207.91 L448.18,208.75 Z M448.67,208.75 L448.67,207.85 L449.13,208.16 L449.58,207.75 L449.58,208.75 Z M451.47,208.75 L451.47,208.26 L451.82,207.97 L452.17,208.24 L452.17,208.75 Z M453.79,208.75 L453.79,207.83 L454.36,207.89 L454.92,207.66 L454.92,208.75 Z M456.16,208.75 L456.16,207.72 L456.81,208.05 L457.45,207.96 L457.45,208.75 Z M458.71,208.75 L458.71,207.88 L459.07,208.27 L459.42,207.67 L459.42,208.75 Z M461.39,208.75 L461.39,207.59 L461.69,207.50 L461.99,207.60 L461.99,208.75 Z M463.54,208.75 L463.54,208.11 L464.35,207.79 L465.16,208.15 L465.16,208.75 Z M467.01,208.75 L467.01,208.51 L467.32,208.49 L467.64,208.42 L467.64,208.75 Z M468.95,208.75 L468.95,208.19 L469.26,208.02 L469.57,208.23 L469.57,208.75 Z M471.27,208.75 L471.27,208.46 L471.70,208.49 L472.14,208.23 L472.14,208.75 Z M473.99,208.75 L473.99,208.26 L474.59,208.29 L475.18,208.32 L475.18,208.75 Z M476.36,208.75 L476.36,208.42 L477.15,208.48 L477.93,208.42 L477.93,208.75 Z M478.51,208.75 L478.51,207.63 L479.39,207.65 L480.27,208.24 L480.27,208.75 Z M480.96,208.75 L480.96,207.85 L481.79,208.36 L482.61,208.38 L482.61,208.75 Z M483.94,208.75 L483.94,207.40 L484.29,207.86 L484.65,207.36 L484.65,208.75 Z M485.42,208.75 L485.42,208.40 L486.17,208.29 L486.92,208.22 L486.92,208.75 Z M487.50,208.75 L487.50,208.41 L487.80,208.49 L488.09,208.44 L488.09,208.75 Z M489.76,208.75 L489.76,207.34 L490.34,207.86 L490.92,207.41 L490.92,208.75 Z M491.79,208.75 L491.79,208.29 L492.38,208.38 L492.97,208.36 L492.97,208.75 Z M494.86,208.75 L494.86,208.41 L495.25,208.24 L495.64,208.23 L495.64,208.75 Z M496.50,208.75 L496.50,207.93 L497.22,207.97 L497.94,207.69 L497.94,208.75 Z M498.48,208.75 L498.48,207.62 L499.15,207.86 L499.81,208.06 L499.81,208.75 Z " stroke="none" fill="#1a3a70" stroke-width="1" />
<path d="M402.46,208.75 L402.85,199.75 L403.15,199.75 L403.54,208.75 Z " stroke="none" fill="#26385e" stroke-width="1" />
<text x="502.00" y="217.60" font-size="7" fill="#444" text-anchor="end" textLength="22.50" lengthAdjust="spacingAndGlyphs" stroke="#444" stroke-width="0.22" >[0 - 2.8]</text>
<line x1="283.75" y1="222.50" x2="501.00" y2="222.50" stroke="#1f4478" stroke-width="1.0" />
<path d="M284.72,222.50 L284.72,222.08 L285.03,221.90 L285.34,221.98 L285.34,222.50 Z M286.82,222.50 L286.82,221.82 L287.17,221.82 L287.52,221.26 L287.52,222.50 Z M289.50,222.50 L289.50,221.89 L290.31,221.85 L291.12,221.78 L291.12,222.50 Z M291.82,222.50 L291.82,222.13 L292.18,222.15 L292.54,221.97 L292.54,222.50 Z M294.26,222.50 L294.26,221.83 L294.60,222.17 L294.94,221.73 L294.94,222.50 Z M296.20,222.50 L296.20,221.87 L296.74,222.02 L297.28,222.05 L297.28,222.50 Z M299.20,222.50 L299.20,221.80 L299.57,221.84 L299.94,221.87 L299.94,222.50 Z M301.69,222.50 L301.69,221.80 L302.03,221.50 L302.38,221.52 L302.38,222.50 Z M303.35,222.50 L303.35,222.09 L304.13,221.97 L304.90,221.91 L304.90,222.50 Z M306.53,222.50 L306.53,222.02 L306.91,222.14 L307.28,222.13 L307.28,222.50 Z M308.78,222.50 L308.78,221.67 L309.64,221.77 L310.50,221.62 L310.50,222.50 Z M312.05,222.50 L312.05,221.55 L312.67,221.06 L313.29,220.97 L313.29,222.50 Z M314.84,222.50 L314.84,222.00 L315.35,221.79 L315.86,221.81 L315.86,222.50 Z M316.47,222.50 L316.47,221.93 L316.96,221.53 L317.46,221.66 L317.46,222.50 Z M318.04,222.50 L318.04,221.85 L318.53,221.54 L319.01,221.12 L319.01,222.50 Z M319.80,222.50 L319.80,221.85 L320.57,221.85 L321.33,221.93 L321.33,222.50 Z M321.98,222.50 L321.98,221.95 L322.83,222.00 L323.69,222.02 L323.69,222.50 Z M324.66,222.50 L324.66,221.06 L325.40,221.09 L326.15,221.63 L326.15,222.50 Z M326.87,222.50 L326.87,221.82 L327.60,221.99 L328.34,221.79 L328.34,222.50 Z M328.66,222.50 L328.66,222.00 L329.52,222.06 L330.37,222.04 L330.37,222.50 Z M331.42,222.50 L331.42,221.69 L332.17,221.40 L332.92,221.55 L332.92,222.50 Z M334.36,222.50 L334.36,221.99 L334.94,221.85 L335.53,221.58 L335.53,222.50 Z M336.13,222.50 L336.13,222.00 L336.84,222.10 L337.56,221.89 L337.56,222.50 Z M338.14,222.50 L338.14,222.16 L338.61,222.28 L339.09,222.14 L339.09,222.50 Z M340.25,222.50 L340.25,222.18 L340.58,222.02 L340.90,222.15 L340.90,222.50 Z M342.24,222.50 L342.24,221.99 L342.62,221.37 L343.00,221.62 L343.00,222.50 Z M343.99,222.50 L343.99,222.17 L344.81,222.03 L345.62,222.01 L345.62,222.50 Z M346.43,222.50 L346.43,221.80 L346.80,221.53 L347.17,221.47 L347.17,222.50 Z M349.16,222.50 L349.16,221.19 L349.84,221.65 L350.51,220.98 L350.51,222.50 Z M350.90,222.50 L350.90,222.06 L351.51,222.10 L352.12,222.08 L352.12,222.50 Z M353.80,222.50 L353.80,221.78 L354.30,222.02 L354.80,222.11 L354.80,222.50 Z M355.96,222.50 L355.96,221.91 L356.50,222.01 L357.05,221.98 L357.05,222.50 Z M358.90,222.50 L358.90,221.92 L359.55,221.55 L360.21,221.90 L360.21,222.50 Z M360.84,222.50 L360.84,221.64 L361.53,221.80 L362.21,221.94 L362.21,222.50 Z M364.02,222.50 L364.02,222.03 L364.67,222.28 L365.32,222.29 L365.32,222.50 Z M366.28,222.50 L366.28,222.17 L367.13,222.01 L367.97,222.02 L367.97,222.50 Z M369.93,222.50 L369.93,221.99 L370.50,222.19 L371.06,222.11 L371.06,222.50 Z M372.67,222.50 L372.67,221.69 L373.07,221.81 L373.48,221.73 L373.48,222.50 Z M374.20,222.50 L374.20,221.46 L374.73,221.82 L375.26,221.80 L375.26,222.50 Z M376.86,222.50 L376.86,222.01 L377.32,222.23 L377.77,221.95 L377.77,222.50 Z M378.33,222.50 L378.33,222.07 L378.75,222.12 L379.18,221.70 L379.18,222.50 Z M380.32,222.50 L380.32,221.18 L380.96,221.19 L381.60,221.16 L381.60,222.50 Z M383.57,222.50 L383.57,222.04 L384.40,222.19 L385.23,222.27 L385.23,222.50 Z M386.13,222.50 L386.13,221.96 L386.94,221.98 L387.75,221.99 L387.75,222.50 Z M388.93,222.50 L388.93,221.86 L389.29,221.14 L389.66,221.08 L389.66,222.50 Z M390.85,222.50 L390.85,221.88 L391.64,221.70 L392.43,221.79 L392.43,222.50 Z M394.29,222.50 L394.29,221.83 L394.91,221.92 L395.53,222.13 L395.53,222.50 Z M396.74,222.50 L396.74,222.03 L397.38,221.89 L398.03,221.97 L398.03,222.50 Z M398.57,222.50 L398.57,222.01 L399.36,221.60 L400.16,221.62 L400.16,222.50 Z M400.76,222.50 L400.76,222.09 L401.40,222.16 L402.04,222.15 L402.04,222.50 Z M403.59,222.50 L403.59,222.22 L404.45,222.03 L405.31,222.00 L405.31,222.50 Z M406.25,222.50 L406.25,222.16 L406.83,221.97 L407.40,222.21 L407.40,222.50 Z M407.98,222.50 L407.98,221.47 L408.45,221.66 L408.93,221.96 L408.93,222.50 Z M410.61,222.50 L410.61,222.15 L411.08,221.81 L411.56,221.80 L411.56,222.50 Z M412.43,222.50 L412.43,222.06 L412.93,222.11 L413.43,222.03 L413.43,222.50 Z M414.75,222.50 L414.75,221.09 L415.15,220.99 L415.56,221.37 L415.56,222.50 Z M416.69,222.50 L416.69,222.00 L417.12,222.00 L417.54,222.27 L417.54,222.50 Z M418.59,222.50 L418.59,221.39 L419.32,221.16 L420.05,221.62 L420.05,222.50 Z M421.45,222.50 L421.45,221.70 L421.83,221.35 L422.20,221.75 L422.20,222.50 Z M423.80,222.50 L423.80,222.04 L424.44,221.83 L425.07,221.95 L425.07,222.50 Z M426.91,222.50 L426.91,222.07 L427.69,221.70 L428.47,221.83 L428.47,222.50 Z M429.56,222.50 L429.56,221.85 L430.11,221.75 L430.66,221.80 L430.66,222.50 Z M431.22,222.50 L431.22,221.87 L431.68,222.10 L432.15,221.93 L432.15,222.50 Z M432.76,222.50 L432.76,221.88 L433.09,222.03 L433.42,222.04 L433.42,222.50 Z M434.42,222.50 L434.42,221.31 L435.05,221.75 L435.69,221.07 L435.69,222.50 Z M436.45,222.50 L436.45,221.83 L437.10,221.77 L437.76,222.09 L437.76,222.50 Z M439.19,222.50 L439.19,222.12 L439.74,222.03 L440.29,221.84 L440.29,222.50 Z M441.81,222.50 L441.81,221.88 L442.49,222.16 L443.18,222.01 L443.18,222.50 Z M444.41,222.50 L444.41,222.24 L445.15,222.27 L445.89,222.02 L445.89,222.50 Z M446.46,222.50 L446.46,221.87 L447.01,221.81 L447.57,221.77 L447.57,222.50 Z M448.88,222.50 L448.88,221.66 L449.40,221.20 L449.92,221.80 L449.92,222.50 Z M450.83,222.50 L450.83,222.13 L451.25,221.87 L451.66,222.11 L451.66,222.50 Z M453.40,222.50 L453.40,221.81 L454.30,221.86 L455.20,221.80 L455.20,222.50 Z M456.11,222.50 L456.11,222.18 L456.58,222.19 L457.04,222.07 L457.04,222.50 Z M458.28,222.50 L458.28,222.01 L458.74,222.11 L459.20,221.77 L459.20,222.50 Z M460.38,222.50 L460.38,222.08 L461.22,222.11 L462.06,222.23 L462.06,222.50 Z M462.78,222.50 L462.78,222.13 L463.27,222.15 L463.76,222.01 L463.76,222.50 Z M464.58,222.50 L464.58,221.98 L465.09,222.12 L465.59,222.11 L465.59,222.50 Z M467.50,222.50 L467.50,222.14 L468.01,222.17 L468.52,222.15 L468.52,222.50 Z M468.94,222.50 L468.94,221.69 L469.52,221.10 L470.10,221.45 L470.10,222.50 Z M470.76,222.50 L470.76,221.82 L471.34,221.39 L471.92,221.66 L471.92,222.50 Z M472.24,222.50 L472.24,221.88 L473.02,221.92 L473.80,221.33 L473.80,222.50 Z M474.67,222.50 L474.67,221.67 L475.44,221.73 L476.21,221.87 L476.21,222.50 Z M477.65,222.50 L477.65,222.05 L478.23,222.12 L478.81,222.10 L478.81,222.50 Z M479.21,222.50 L479.21,222.07 L479.47,221.98 L479.74,221.97 L479.74,222.50 Z M481.53,222.50 L481.53,222.02 L481.88,222.00 L482.23,222.12 L482.23,222.50 Z M483.10,222.50 L483.10,222.00 L483.64,221.91 L484.18,221.63 L484.18,222.50 Z M485.66,222.50 L485.66,221.33 L486.44,221.09 L487.23,221.74 L487.23,222.50 Z M488.67,222.50 L488.67,221.31 L489.54,221.84 L490.40,221.65 L490.40,222.50 Z M490.92,222.50 L490.92,221.22 L491.71,221.61 L492.51,221.49 L492.51,222.50 Z M494.38,222.50 L494.38,221.89 L495.19,221.56 L496.00,221.36 L496.00,222.50 Z M496.70,222.50 L496.70,221.45 L497.25,221.52 L497.81,221.52 L497.81,222.50 Z M499.11,222.50 L499.11,222.08 L499.60,221.99 L500.09,222.22 L500.09,222.50 Z " stroke="none" fill="#1a3a70" stroke-width="1" />
<path d="M402.46,222.50 L402.85,212.50 L403.15,212.50 L403.54,222.50 Z " stroke="none" fill="#26385e" stroke-width="1" />
<line x1="327.00" y1="235.00" x2="491.00" y2="235.00" stroke="#9fb2cc" stroke-width="0.6" />
<line x1="327.00" y1="233.00" x2="327.00" y2="237.00" stroke="#3d5f8f" stroke-width="0.8" />
<line x1="330.00" y1="235.00" x2="332.20" y2="235.00" stroke="#4a6a98" stroke-width="0.7" />
<line x1="334.60" y1="235.00" x2="336.80" y2="235.00" stroke="#4a6a98" stroke-width="0.7" />
<line x1="339.20" y1="235.00" x2="341.40" y2="235.00" stroke="#4a6a98" stroke-width="0.7" />
<line x1="343.80" y1="235.00" x2="346.00" y2="235.00" stroke="#4a6a98" stroke-width="0.7" />
<line x1="348.40" y1="235.00" x2="350.60" y2="235.00" stroke="#4a6a98" stroke-width="0.7" />
<line x1="353.00" y1="235.00" x2="355.20" y2="235.00" stroke="#4a6a98" stroke-width="0.7" />
<line x1="357.60" y1="235.00" x2="359.80" y2="235.00" stroke="#4a6a98" stroke-width="0.7" />
<line x1="362.20" y1="235.00" x2="364.40" y2="235.00" stroke="#4a6a98" stroke-width="0.7" />
<line x1="366.80" y1="235.00" x2="369.00" y2="235.00" stroke="#4a6a98" stroke-width="0.7" />
<line x1="371.40" y1="235.00" x2="373.60" y2="235.00" stroke="#4a6a98" stroke-width="0.7" />
<line x1="376.00" y1="235.00" x2="378.20" y2="235.00" stroke="#4a6a98" stroke-width="0.7" />
<line x1="380.60" y1="235.00" x2="382.80" y2="235.00" stroke="#4a6a98" stroke-width="0.7" />
<line x1="385.20" y1="235.00" x2="387.40" y2="235.00" stroke="#4a6a98" stroke-width="0.7" />
<line x1="389.80" y1="235.00" x2="392.00" y2="235.00" stroke="#4a6a98" stroke-width="0.7" />
<line x1="394.40" y1="235.00" x2="396.60" y2="235.00" stroke="#4a6a98" stroke-width="0.7" />
<line x1="399.00" y1="235.00" x2="401.20" y2="235.00" stroke="#4a6a98" stroke-width="0.7" />
<line x1="403.60" y1="235.00" x2="405.80" y2="235.00" stroke="#4a6a98" stroke-width="0.7" />
<line x1="408.20" y1="235.00" x2="410.40" y2="235.00" stroke="#4a6a98" stroke-width="0.7" />
<line x1="412.80" y1="235.00" x2="415.00" y2="235.00" stroke="#4a6a98" stroke-width="0.7" />
<line x1="417.40" y1="235.00" x2="419.60" y2="235.00" stroke="#4a6a98" stroke-width="0.7" />
<line x1="422.00" y1="235.00" x2="424.20" y2="235.00" stroke="#4a6a98" stroke-width="0.7" />
<line x1="426.60" y1="235.00" x2="428.80" y2="235.00" stroke="#4a6a98" stroke-width="0.7" />
<line x1="431.20" y1="235.00" x2="433.40" y2="235.00" stroke="#4a6a98" stroke-width="0.7" />
<line x1="435.80" y1="235.00" x2="438.00" y2="235.00" stroke="#4a6a98" stroke-width="0.7" />
<line x1="440.40" y1="235.00" x2="442.60" y2="235.00" stroke="#4a6a98" stroke-width="0.7" />
<line x1="445.00" y1="235.00" x2="447.20" y2="235.00" stroke="#4a6a98" stroke-width="0.7" />
<line x1="449.60" y1="235.00" x2="451.80" y2="235.00" stroke="#4a6a98" stroke-width="0.7" />
<rect x="452.50" y="232.80" width="2.00" height="4.40" fill="#3d5f8f"/>
<rect x="467.50" y="232.80" width="2.00" height="4.40" fill="#3d5f8f"/>
<line x1="457.00" y1="233.00" x2="457.00" y2="237.00" stroke="#3d5f8f" stroke-width="0.8" />
<line x1="458.75" y1="233.00" x2="458.75" y2="237.00" stroke="#3d5f8f" stroke-width="0.8" />
<line x1="460.75" y1="233.00" x2="460.75" y2="237.00" stroke="#3d5f8f" stroke-width="0.8" />
<line x1="471.25" y1="233.00" x2="471.25" y2="237.00" stroke="#3d5f8f" stroke-width="0.8" />
<line x1="473.75" y1="233.00" x2="473.75" y2="237.00" stroke="#3d5f8f" stroke-width="0.8" />
<line x1="475.50" y1="233.00" x2="475.50" y2="237.00" stroke="#3d5f8f" stroke-width="0.8" />
<line x1="480.50" y1="233.00" x2="480.50" y2="237.00" stroke="#3d5f8f" stroke-width="0.8" />
<line x1="482.50" y1="233.00" x2="482.50" y2="237.00" stroke="#3d5f8f" stroke-width="0.8" />
<line x1="484.50" y1="233.00" x2="484.50" y2="237.00" stroke="#3d5f8f" stroke-width="0.8" />
<line x1="486.25" y1="233.00" x2="486.25" y2="237.00" stroke="#3d5f8f" stroke-width="0.8" />
<line x1="488.75" y1="233.00" x2="488.75" y2="237.00" stroke="#3d5f8f" stroke-width="0.8" />
<path d="M489,232.8 L491.5,235 L489,237.2 Z" stroke="none" fill="#3d5f8f" stroke-width="1" />
<path d="M322.5,236 L322.5,245.8 L335,245.8" stroke="#111" fill="none" stroke-width="1.0" />
<path d="M338.6,245.8 L334,243.6 L334,248 Z" stroke="none" fill="#111" stroke-width="1" />
<text x="342.00" y="248.40" font-size="7" fill="#333" textLength="23.00" lengthAdjust="spacingAndGlyphs" stroke="#333" stroke-width="0.22" >NCAM1</text>
<text x="7.00" y="273.60" font-size="12.3" fill="#111" font-weight="bold" >E</text>
<defs><linearGradient id="gE" x1="0" x2="1" y1="0" y2="0"><stop offset="0" stop-color="#4646c8"/><stop offset="0.18" stop-color="#8a3c96"/><stop offset="0.38" stop-color="#c03448"/><stop offset="1" stop-color="#b82a2a"/></linearGradient></defs>
<rect x="71.00" y="275.90" width="184.00" height="1.40" fill="url(#gE)"/>
<path d="M258.5,276.6 L253.5,274.2 L253.5,279 Z" stroke="none" fill="#b82a2a" stroke-width="1" />
<line x1="17.20" y1="293.50" x2="52.00" y2="293.50" stroke="#111" stroke-width="1.0" />
<path d="M23.7,293.2 L24.3,285 L25.1,280 L25.8,284 L26.3,289 L27.5,293.2 Z" stroke="none" fill="#111" stroke-width="1" />
<path d="M31.7,293.2 L32.4,283 L32.8,280 L33.2,284 L34,293.2 Z" stroke="none" fill="#111" stroke-width="1" />
<path d="M38.2,293.2 L39.2,286.5 L40.5,282.5 L41.4,280 L42.1,284 L43.2,288.5 L44.6,291.5 L46,293.2 Z" stroke="none" fill="#111" stroke-width="1" />
<text x="34.70" y="302.80" font-size="7" fill="#333" text-anchor="middle" textLength="24.50" lengthAdjust="spacingAndGlyphs" stroke="#333" stroke-width="0.22" >RNASeq</text>
<text x="68.50" y="287.40" font-size="7.5" fill="#333" text-anchor="middle" textLength="19.40" lengthAdjust="spacingAndGlyphs" stroke="#333" stroke-width="0.22" >DMSO</text>
<text x="101.70" y="287.30" font-size="7.5" fill="#333" text-anchor="middle" textLength="27.00" lengthAdjust="spacingAndGlyphs" stroke="#333" stroke-width="0.22" >BETi_72h</text>
<text x="176.50" y="286.80" font-size="7.5" fill="#333" text-anchor="middle" textLength="18.50" lengthAdjust="spacingAndGlyphs" stroke="#333" stroke-width="0.22" >IC50_r</text>
<text x="249.80" y="286.80" font-size="7.5" fill="#333" text-anchor="middle" textLength="18.50" lengthAdjust="spacingAndGlyphs" stroke="#333" stroke-width="0.22" >IC90_r</text>
<circle cx="68.90" cy="294.40" r="3.40" fill="#8c9ccc" stroke="#3a3a3a" stroke-width="0.9"/>
<circle cx="59.70" cy="307.80" r="3.40" fill="#5a5aa8" stroke="#3a3a3a" stroke-width="0.9"/>
<circle cx="101.70" cy="294.60" r="3.40" fill="#f0ee60" stroke="#3a3a3a" stroke-width="0.9"/>
<circle cx="93.40" cy="308.00" r="3.40" fill="#4e7a4e" stroke="#3a3a3a" stroke-width="0.9"/>
<circle cx="176.10" cy="294.60" r="3.40" fill="#8a5aa8" stroke="#3a3a3a" stroke-width="0.9"/>
<circle cx="167.30" cy="308.00" r="3.40" fill="#e87aa8" stroke="#3a3a3a" stroke-width="0.9"/>
<circle cx="250.50" cy="294.60" r="3.40" fill="#d0604a" stroke="#3a3a3a" stroke-width="0.9"/>
<circle cx="241.20" cy="308.00" r="3.40" fill="#6a6a6a" stroke="#3a3a3a" stroke-width="0.9"/>
<path d="M74.40,294.80 Q76.90,304.00 66.00,310.20" stroke="#111" fill="none" stroke-width="1.1" />
<path d="M64.26,311.19 L66.30,307.50 L68.48,311.32 Z" stroke="none" fill="#111" stroke-width="1" />
<path d="M107.20,294.80 Q109.70,304.00 99.20,310.20" stroke="#111" fill="none" stroke-width="1.1" />
<path d="M97.48,311.22 L99.46,307.49 L101.70,311.28 Z" stroke="none" fill="#111" stroke-width="1" />
<path d="M181.70,294.80 Q184.20,304.00 173.20,310.20" stroke="#111" fill="none" stroke-width="1.1" />
<path d="M171.46,311.18 L173.51,307.50 L175.67,311.33 Z" stroke="none" fill="#111" stroke-width="1" />
<path d="M256.00,294.80 Q258.50,304.00 247.50,310.20" stroke="#111" fill="none" stroke-width="1.1" />
<path d="M245.76,311.18 L247.81,307.50 L249.97,311.33 Z" stroke="none" fill="#111" stroke-width="1" />
<text x="60.10" y="321.20" font-size="7.5" fill="#333" text-anchor="middle" textLength="19.80" lengthAdjust="spacingAndGlyphs" stroke="#333" stroke-width="0.22" >+p300i</text>
<text x="60.10" y="328.30" font-size="7.5" fill="#333" text-anchor="middle" textLength="14.70" lengthAdjust="spacingAndGlyphs" stroke="#333" stroke-width="0.22" >(24h)</text>
<text x="93.40" y="320.60" font-size="7.5" fill="#333" text-anchor="middle" textLength="26.70" lengthAdjust="spacingAndGlyphs" stroke="#333" stroke-width="0.22" >BETi_72h</text>
<text x="93.80" y="328.00" font-size="7.5" fill="#333" text-anchor="middle" textLength="18.20" lengthAdjust="spacingAndGlyphs" stroke="#333" stroke-width="0.22" >+p300i</text>
<text x="167.30" y="319.90" font-size="7.5" fill="#333" text-anchor="middle" textLength="18.60" lengthAdjust="spacingAndGlyphs" stroke="#333" stroke-width="0.22" >IC50_r</text>
<text x="167.80" y="328.40" font-size="7.5" fill="#333" text-anchor="middle" textLength="19.70" lengthAdjust="spacingAndGlyphs" stroke="#333" stroke-width="0.22" >+p300i</text>
<text x="241.80" y="319.90" font-size="7.5" fill="#333" text-anchor="middle" textLength="19.60" lengthAdjust="spacingAndGlyphs" stroke="#333" stroke-width="0.22" >IC90_r</text>
<text x="242.00" y="328.40" font-size="7.5" fill="#333" text-anchor="middle" textLength="19.70" lengthAdjust="spacingAndGlyphs" stroke="#333" stroke-width="0.22" >+p300i</text>
<text x="275.80" y="274.20" font-size="12.3" fill="#111" font-weight="bold" >F</text>
<text x="315.80" y="273.50" font-size="9" fill="#bc2a48" textLength="69.20" lengthAdjust="spacingAndGlyphs" stroke="#bc2a48" stroke-width="0.22" >SKNO1_evolution</text>
<line x1="308.40" y1="278.30" x2="308.40" y2="344.10" stroke="#2b2b2b" stroke-width="1.5" />
<line x1="307.70" y1="343.40" x2="393.30" y2="343.40" stroke="#2b2b2b" stroke-width="1.5" />
<line x1="305.60" y1="297.50" x2="308.40" y2="297.50" stroke="#2b2b2b" stroke-width="1" />
<text x="302.50" y="299.90" font-size="7" fill="#333" text-anchor="end" stroke="#333" stroke-width="0.22" >1</text>
<line x1="305.60" y1="337.30" x2="308.40" y2="337.30" stroke="#2b2b2b" stroke-width="1" />
<text x="302.50" y="339.70" font-size="7" fill="#333" text-anchor="end" stroke="#333" stroke-width="0.22" >0</text>
<line x1="323.50" y1="343.00" x2="323.50" y2="346.00" stroke="#2b2b2b" stroke-width="1" />
<line x1="342.70" y1="343.00" x2="342.70" y2="346.00" stroke="#2b2b2b" stroke-width="1" />
<line x1="361.50" y1="343.00" x2="361.50" y2="346.00" stroke="#2b2b2b" stroke-width="1" />
<line x1="380.40" y1="343.00" x2="380.40" y2="346.00" stroke="#2b2b2b" stroke-width="1" />
<text x="293.20" y="310.80" font-size="8.5" fill="#333" text-anchor="middle" textLength="44.00" lengthAdjust="spacingAndGlyphs" stroke="#333" stroke-width="0.22" transform="rotate(-90 293.20 310.80)" >Average FPKM</text>
<path d="M323.50,336.90 L342.70,337.00 L361.50,333.00 L380.40,324.40" stroke="#c63c4c" fill="none" stroke-width="1" />
<path d="M323.50,332.70 L342.70,335.40 L361.50,321.20 L380.40,284.60" stroke="#35618f" fill="none" stroke-width="1" />
<line x1="361.50" y1="315.80" x2="361.50" y2="326.30" stroke="#2a2a2a" stroke-width="0.7" />
<line x1="360.10" y1="315.80" x2="362.90" y2="315.80" stroke="#2a2a2a" stroke-width="0.7" />
<line x1="360.10" y1="326.30" x2="362.90" y2="326.30" stroke="#2a2a2a" stroke-width="0.7" />
<circle cx="323.50" cy="336.90" r="1.80" fill="#842c3a" stroke="#1e1e1e" stroke-width="1.0"/>
<circle cx="342.70" cy="337.00" r="1.80" fill="#842c3a" stroke="#1e1e1e" stroke-width="1.0"/>
<circle cx="361.50" cy="333.00" r="1.80" fill="#842c3a" stroke="#1e1e1e" stroke-width="1.0"/>
<circle cx="380.40" cy="324.40" r="1.80" fill="#842c3a" stroke="#1e1e1e" stroke-width="1.0"/>
<circle cx="323.50" cy="332.70" r="1.80" fill="#30486c" stroke="#1e1e1e" stroke-width="1.0"/>
<circle cx="342.70" cy="335.40" r="1.80" fill="#30486c" stroke="#1e1e1e" stroke-width="1.0"/>
<circle cx="361.50" cy="321.20" r="1.80" fill="#30486c" stroke="#1e1e1e" stroke-width="1.0"/>
<circle cx="380.40" cy="284.60" r="1.80" fill="#30486c" stroke="#1e1e1e" stroke-width="1.0"/>
<circle cx="318.30" cy="284.00" r="2.40" fill="#30486c" stroke="#1e1e1e" stroke-width="1.0"/>
<circle cx="318.30" cy="294.20" r="2.40" fill="#842c3a" stroke="#1e1e1e" stroke-width="1.0"/>
<text x="324.60" y="286.50" font-size="7.5" fill="#333" textLength="25.80" lengthAdjust="spacingAndGlyphs" stroke="#333" stroke-width="0.22" >no p300i</text>
<text x="324.60" y="296.60" font-size="7.5" fill="#333" textLength="21.40" lengthAdjust="spacingAndGlyphs" stroke="#333" stroke-width="0.22" >+p300i</text>
<text x="326.50" y="354.50" font-size="8" fill="#333" text-anchor="end" textLength="19.00" lengthAdjust="spacingAndGlyphs" stroke="#333" stroke-width="0.22" transform="rotate(-45 326.50 354.50)" >DMSO</text>
<text x="345.70" y="354.50" font-size="8" fill="#333" text-anchor="end" textLength="27.00" lengthAdjust="spacingAndGlyphs" stroke="#333" stroke-width="0.22" transform="rotate(-45 345.70 354.50)" >BETi_72h</text>
<text x="364.50" y="354.50" font-size="8" fill="#333" text-anchor="end" textLength="34.00" lengthAdjust="spacingAndGlyphs" stroke="#333" stroke-width="0.22" transform="rotate(-45 364.50 354.50)" >BETi_ic50_r</text>
<text x="383.40" y="354.50" font-size="8" fill="#333" text-anchor="end" textLength="34.00" lengthAdjust="spacingAndGlyphs" stroke="#333" stroke-width="0.22" transform="rotate(-45 383.40 354.50)" >BETi_ic90_r</text>
<text x="408.20" y="274.20" font-size="12.3" fill="#111" font-weight="bold" >G</text>
<line x1="450.60" y1="278.00" x2="450.60" y2="344.20" stroke="#2b2b2b" stroke-width="1.5" />
<line x1="447.30" y1="343.50" x2="505.60" y2="343.50" stroke="#2b2b2b" stroke-width="1.5" />
<line x1="448.50" y1="284.80" x2="451.00" y2="284.80" stroke="#2b2b2b" stroke-width="1" />
<text x="445.50" y="287.20" font-size="7" fill="#333" text-anchor="end" stroke="#333" stroke-width="0.22" >100</text>
<line x1="448.50" y1="314.15" x2="451.00" y2="314.15" stroke="#2b2b2b" stroke-width="1" />
<text x="445.50" y="316.55" font-size="7" fill="#333" text-anchor="end" stroke="#333" stroke-width="0.22" >50</text>
<line x1="448.50" y1="343.50" x2="451.00" y2="343.50" stroke="#2b2b2b" stroke-width="1" />
<text x="445.50" y="345.90" font-size="7" fill="#333" text-anchor="end" stroke="#333" stroke-width="0.22" >0</text>
<text x="429.10" y="311.60" font-size="8.5" fill="#333" text-anchor="middle" textLength="31.50" lengthAdjust="spacingAndGlyphs" stroke="#333" stroke-width="0.22" transform="rotate(-90 429.10 311.60)" >% Viability</text>
<rect x="454.80" y="284.80" width="6.70" height="58.70" fill="#d3d3dd"/>
<rect x="466.30" y="297.13" width="6.70" height="46.37" fill="#d3d3dd"/>
<rect x="483.60" y="284.80" width="6.70" height="58.70" fill="#e3897a"/>
<rect x="495.20" y="331.17" width="6.70" height="12.33" fill="#e3897a"/>
<line x1="458.10" y1="343.30" x2="458.10" y2="346.30" stroke="#2b2b2b" stroke-width="1" />
<line x1="469.60" y1="343.30" x2="469.60" y2="346.30" stroke="#2b2b2b" stroke-width="1" />
<line x1="486.90" y1="343.30" x2="486.90" y2="346.30" stroke="#2b2b2b" stroke-width="1" />
<line x1="498.50" y1="343.30" x2="498.50" y2="346.30" stroke="#2b2b2b" stroke-width="1" />
<circle cx="456.10" cy="284.80" r="1.30" fill="#8a8a9c" stroke="none" stroke-width="0.6"/>
<circle cx="458.10" cy="284.80" r="1.30" fill="#8a8a9c" stroke="none" stroke-width="0.6"/>
<circle cx="460.10" cy="284.80" r="1.30" fill="#8a8a9c" stroke="none" stroke-width="0.6"/>
<line x1="469.60" y1="290.08" x2="469.60" y2="300.65" stroke="#8a8a9c" stroke-width="0.7" />
<line x1="468.40" y1="290.08" x2="470.80" y2="290.08" stroke="#8a8a9c" stroke-width="0.7" />
<line x1="468.40" y1="300.65" x2="470.80" y2="300.65" stroke="#8a8a9c" stroke-width="0.7" />
<circle cx="469.60" cy="290.08" r="1.30" fill="#8a8a9c" stroke="none" stroke-width="0.6"/>
<circle cx="468.40" cy="299.48" r="1.30" fill="#8a8a9c" stroke="none" stroke-width="0.6"/>
<circle cx="471.20" cy="296.54" r="1.30" fill="#8a8a9c" stroke="none" stroke-width="0.6"/>
<circle cx="484.90" cy="284.80" r="1.40" fill="#c8102e" stroke="none" stroke-width="0.6"/>
<circle cx="486.90" cy="284.80" r="1.40" fill="#c8102e" stroke="none" stroke-width="0.6"/>
<circle cx="488.90" cy="284.80" r="1.40" fill="#c8102e" stroke="none" stroke-width="0.6"/>
<circle cx="497.20" cy="331.17" r="1.40" fill="#c8102e" stroke="none" stroke-width="0.6"/>
<circle cx="499.80" cy="330.88" r="1.40" fill="#c8102e" stroke="none" stroke-width="0.6"/>
<circle cx="498.50" cy="329.71" r="1.40" fill="#c8102e" stroke="none" stroke-width="0.6"/>
<path d="M469.2,283.8 L469.2,277.7 L499,277.7 L499,294" stroke="#333" fill="none" stroke-width="0.9" />
<text x="472.70" y="275.30" font-size="7" fill="#333" textLength="22.50" lengthAdjust="spacingAndGlyphs" stroke="#333" stroke-width="0.22" >&lt;0.0001</text>
<text x="460.60" y="353.50" font-size="8" fill="#333" text-anchor="end" textLength="17.00" lengthAdjust="spacingAndGlyphs" stroke="#333" stroke-width="0.22" transform="rotate(-45 460.60 353.50)" >shLuc</text>
<text x="472.10" y="353.50" font-size="8" fill="#333" text-anchor="end" textLength="40.00" lengthAdjust="spacingAndGlyphs" stroke="#333" stroke-width="0.22" transform="rotate(-45 472.10 353.50)" >shNCAM1_61</text>
<text x="489.40" y="353.50" font-size="8" fill="#333" text-anchor="end" textLength="17.00" lengthAdjust="spacingAndGlyphs" stroke="#333" stroke-width="0.22" transform="rotate(-45 489.40 353.50)" >shLuc</text>
<text x="501.00" y="353.50" font-size="8" fill="#333" text-anchor="end" textLength="40.00" lengthAdjust="spacingAndGlyphs" stroke="#333" stroke-width="0.22" transform="rotate(-45 501.00 353.50)" >shNCAM1_61</text>
<text x="7.20" y="409.40" font-size="12.3" fill="#111" font-weight="bold" >H</text>
<text x="64.50" y="408.60" font-size="9" fill="#6a3d8f" textLength="47.50" lengthAdjust="spacingAndGlyphs" stroke="#6a3d8f" stroke-width="0.22" >OCI_AML3_</text>
<text x="63.00" y="419.90" font-size="9" fill="#6a3d8f" textLength="50.00" lengthAdjust="spacingAndGlyphs" stroke="#6a3d8f" stroke-width="0.22" >inflammation</text>
<line x1="48.70" y1="424.60" x2="48.70" y2="490.40" stroke="#2b2b2b" stroke-width="1.5" />
<line x1="48.00" y1="489.70" x2="127.50" y2="489.70" stroke="#2b2b2b" stroke-width="1.5" />
<line x1="46.00" y1="426.90" x2="48.50" y2="426.90" stroke="#2b2b2b" stroke-width="1" />
<text x="43.40" y="429.30" font-size="7" fill="#333" text-anchor="end" stroke="#333" stroke-width="0.22" >20</text>
<line x1="46.00" y1="456.05" x2="48.50" y2="456.05" stroke="#2b2b2b" stroke-width="1" />
<text x="43.40" y="458.45" font-size="7" fill="#333" text-anchor="end" stroke="#333" stroke-width="0.22" >10</text>
<line x1="46.00" y1="485.20" x2="48.50" y2="485.20" stroke="#2b2b2b" stroke-width="1" />
<text x="43.40" y="487.60" font-size="7" fill="#333" text-anchor="end" stroke="#333" stroke-width="0.22" >0</text>
<text x="29.50" y="457.30" font-size="8.5" fill="#333" text-anchor="middle" textLength="44.00" lengthAdjust="spacingAndGlyphs" stroke="#333" stroke-width="0.22" transform="rotate(-90 29.50 457.30)" >Average FPKM</text>
<line x1="71.25" y1="490.00" x2="71.25" y2="493.00" stroke="#2b2b2b" stroke-width="1" />
<line x1="88.75" y1="490.00" x2="88.75" y2="493.00" stroke="#2b2b2b" stroke-width="1" />
<line x1="106.25" y1="490.00" x2="106.25" y2="493.00" stroke="#2b2b2b" stroke-width="1" />
<line x1="123.75" y1="490.00" x2="123.75" y2="493.00" stroke="#2b2b2b" stroke-width="1" />
<line x1="71.25" y1="471.25" x2="71.25" y2="478.75" stroke="#2a2a2a" stroke-width="0.7" />
<line x1="69.85" y1="471.25" x2="72.65" y2="471.25" stroke="#2a2a2a" stroke-width="0.7" />
<line x1="69.85" y1="478.75" x2="72.65" y2="478.75" stroke="#2a2a2a" stroke-width="0.7" />
<path d="M71.25,482.00 L88.75,482.00 L106.25,468.75 L123.75,481.75" stroke="#c63c4c" fill="none" stroke-width="1" />
<path d="M71.25,475.00 L88.75,479.00 L106.25,442.00 L123.75,480.75" stroke="#35618f" fill="none" stroke-width="1" />
<circle cx="71.25" cy="482.00" r="1.80" fill="#842c3a" stroke="#1e1e1e" stroke-width="1.0"/>
<circle cx="88.75" cy="482.00" r="1.80" fill="#842c3a" stroke="#1e1e1e" stroke-width="1.0"/>
<circle cx="106.25" cy="468.75" r="1.80" fill="#842c3a" stroke="#1e1e1e" stroke-width="1.0"/>
<circle cx="123.75" cy="481.75" r="1.80" fill="#842c3a" stroke="#1e1e1e" stroke-width="1.0"/>
<circle cx="71.25" cy="475.00" r="1.80" fill="#30486c" stroke="#1e1e1e" stroke-width="1.0"/>
<circle cx="88.75" cy="479.00" r="1.80" fill="#30486c" stroke="#1e1e1e" stroke-width="1.0"/>
<circle cx="106.25" cy="442.00" r="1.80" fill="#30486c" stroke="#1e1e1e" stroke-width="1.0"/>
<circle cx="123.75" cy="480.75" r="1.80" fill="#30486c" stroke="#1e1e1e" stroke-width="1.0"/>
<circle cx="133.00" cy="427.50" r="2.40" fill="#30486c" stroke="#1e1e1e" stroke-width="1.0"/>
<circle cx="133.00" cy="437.50" r="2.40" fill="#842c3a" stroke="#1e1e1e" stroke-width="1.0"/>
<text x="139.80" y="430.00" font-size="7.5" fill="#333" textLength="25.80" lengthAdjust="spacingAndGlyphs" stroke="#333" stroke-width="0.22" >no p300i</text>
<text x="139.80" y="440.00" font-size="7.5" fill="#333" textLength="21.40" lengthAdjust="spacingAndGlyphs" stroke="#333" stroke-width="0.22" >+p300i</text>
<text x="73.75" y="500.50" font-size="8" fill="#333" text-anchor="end" textLength="19.00" lengthAdjust="spacingAndGlyphs" stroke="#333" stroke-width="0.22" transform="rotate(-45 73.75 500.50)" >DMSO</text>
<text x="91.25" y="500.50" font-size="8" fill="#333" text-anchor="end" textLength="27.00" lengthAdjust="spacingAndGlyphs" stroke="#333" stroke-width="0.22" transform="rotate(-45 91.25 500.50)" >BETi_72h</text>
<text x="108.75" y="500.50" font-size="8" fill="#333" text-anchor="end" textLength="34.00" lengthAdjust="spacingAndGlyphs" stroke="#333" stroke-width="0.22" transform="rotate(-45 108.75 500.50)" >BETi_ic50_r</text>
<text x="126.25" y="500.50" font-size="8" fill="#333" text-anchor="end" textLength="34.00" lengthAdjust="spacingAndGlyphs" stroke="#333" stroke-width="0.22" transform="rotate(-45 126.25 500.50)" >BETi_ic90_r</text>
<text x="180.50" y="409.00" font-size="12.3" fill="#111" font-weight="bold" >I</text>
<line x1="217.20" y1="424.60" x2="217.20" y2="490.40" stroke="#2b2b2b" stroke-width="1.5" />
<line x1="214.00" y1="489.70" x2="317.50" y2="489.70" stroke="#2b2b2b" stroke-width="1.5" />
<line x1="214.60" y1="426.90" x2="217.10" y2="426.90" stroke="#2b2b2b" stroke-width="1" />
<text x="211.80" y="429.30" font-size="7" fill="#333" text-anchor="end" stroke="#333" stroke-width="0.22" >100</text>
<line x1="214.60" y1="458.70" x2="217.10" y2="458.70" stroke="#2b2b2b" stroke-width="1" />
<text x="211.80" y="461.10" font-size="7" fill="#333" text-anchor="end" stroke="#333" stroke-width="0.22" >50</text>
<line x1="214.60" y1="490.50" x2="217.10" y2="490.50" stroke="#2b2b2b" stroke-width="1" />
<text x="211.80" y="492.90" font-size="7" fill="#333" text-anchor="end" stroke="#333" stroke-width="0.22" >0</text>
<text x="195.00" y="457.20" font-size="8.5" fill="#333" text-anchor="middle" textLength="32.00" lengthAdjust="spacingAndGlyphs" stroke="#333" stroke-width="0.22" transform="rotate(-90 195.00 457.20)" >% Viability</text>
<rect x="222.30" y="426.90" width="8.30" height="63.60" fill="#d3d3dd"/>
<rect x="236.50" y="463.15" width="8.30" height="27.35" fill="#a07aad"/>
<rect x="250.60" y="464.81" width="8.30" height="25.69" fill="#7b8fbf"/>
<rect x="274.60" y="426.90" width="8.30" height="63.60" fill="#d3d3dd"/>
<rect x="288.70" y="448.91" width="8.30" height="41.59" fill="#e3897a"/>
<rect x="303.00" y="447.51" width="8.30" height="42.99" fill="#f08cc0"/>
<line x1="226.45" y1="489.70" x2="226.45" y2="492.70" stroke="#2b2b2b" stroke-width="1" />
<line x1="240.65" y1="489.70" x2="240.65" y2="492.70" stroke="#2b2b2b" stroke-width="1" />
<line x1="254.75" y1="489.70" x2="254.75" y2="492.70" stroke="#2b2b2b" stroke-width="1" />
<line x1="278.75" y1="489.70" x2="278.75" y2="492.70" stroke="#2b2b2b" stroke-width="1" />
<line x1="292.85" y1="489.70" x2="292.85" y2="492.70" stroke="#2b2b2b" stroke-width="1" />
<line x1="307.15" y1="489.70" x2="307.15" y2="492.70" stroke="#2b2b2b" stroke-width="1" />
<circle cx="224.05" cy="426.90" r="1.70" fill="#8e8ea0" stroke="none" stroke-width="0.6"/>
<circle cx="226.45" cy="426.90" r="1.70" fill="#8e8ea0" stroke="none" stroke-width="0.6"/>
<circle cx="228.85" cy="426.90" r="1.70" fill="#8e8ea0" stroke="none" stroke-width="0.6"/>
<circle cx="276.35" cy="426.90" r="1.70" fill="#8e8ea0" stroke="none" stroke-width="0.6"/>
<circle cx="278.75" cy="426.90" r="1.70" fill="#8e8ea0" stroke="none" stroke-width="0.6"/>
<circle cx="281.15" cy="426.90" r="1.70" fill="#8e8ea0" stroke="none" stroke-width="0.6"/>
<circle cx="238.45" cy="460.42" r="1.90" fill="#4a1f5a" stroke="none" stroke-width="0.6"/>
<circle cx="243.05" cy="462.52" r="1.90" fill="#4a1f5a" stroke="none" stroke-width="0.6"/>
<circle cx="238.85" cy="466.01" r="1.90" fill="#4a1f5a" stroke="none" stroke-width="0.6"/>
<circle cx="252.55" cy="462.52" r="1.90" fill="#1a3a7a" stroke="none" stroke-width="0.6"/>
<circle cx="257.15" cy="464.17" r="1.90" fill="#1a3a7a" stroke="none" stroke-width="0.6"/>
<circle cx="252.95" cy="467.73" r="1.90" fill="#1a3a7a" stroke="none" stroke-width="0.6"/>
<circle cx="290.35" cy="449.48" r="1.90" fill="#c0102e" stroke="none" stroke-width="0.6"/>
<circle cx="292.85" cy="447.82" r="1.90" fill="#c0102e" stroke="none" stroke-width="0.6"/>
<circle cx="295.35" cy="449.48" r="1.90" fill="#c0102e" stroke="none" stroke-width="0.6"/>
<circle cx="304.65" cy="448.71" r="1.90" fill="#d0206a" stroke="none" stroke-width="0.6"/>
<circle cx="307.15" cy="445.98" r="1.90" fill="#d0206a" stroke="none" stroke-width="0.6"/>
<circle cx="309.65" cy="447.82" r="1.90" fill="#d0206a" stroke="none" stroke-width="0.6"/>
<path d="M240.2,412.7 L240.2,407.7 L291.5,407.7 L291.5,412.5" stroke="#333" fill="none" stroke-width="0.9" />
<text x="266.10" y="405.00" font-size="7" fill="#333" text-anchor="middle" textLength="20.20" lengthAdjust="spacingAndGlyphs" stroke="#333" stroke-width="0.22" >0.0002</text>
<path d="M253.5,428.5 L253.5,422.7 L306.5,422.7 L306.5,428.5" stroke="#333" fill="none" stroke-width="0.9" />
<text x="279.80" y="420.00" font-size="7" fill="#333" text-anchor="middle" textLength="23.50" lengthAdjust="spacingAndGlyphs" stroke="#333" stroke-width="0.22" >&lt;0.0001</text>
<text x="229.05" y="499.50" font-size="8" fill="#6a3d8f" text-anchor="end" textLength="15.50" lengthAdjust="spacingAndGlyphs" stroke="#6a3d8f" stroke-width="0.22" transform="rotate(-45 229.05 499.50)" >shLuc</text>
<text x="243.25" y="499.50" font-size="8" fill="#6a3d8f" text-anchor="end" textLength="35.50" lengthAdjust="spacingAndGlyphs" stroke="#6a3d8f" stroke-width="0.22" transform="rotate(-45 243.25 499.50)" >sh5100A9_1</text>
<text x="257.35" y="499.50" font-size="8" fill="#6a3d8f" text-anchor="end" textLength="35.50" lengthAdjust="spacingAndGlyphs" stroke="#6a3d8f" stroke-width="0.22" transform="rotate(-45 257.35 499.50)" >sh5100A9_2</text>
<text x="281.35" y="499.50" font-size="8" fill="#c8284e" text-anchor="end" textLength="15.50" lengthAdjust="spacingAndGlyphs" stroke="#c8284e" stroke-width="0.22" transform="rotate(-45 281.35 499.50)" >shLuc</text>
<text x="295.45" y="499.50" font-size="8" fill="#c8284e" text-anchor="end" textLength="35.50" lengthAdjust="spacingAndGlyphs" stroke="#c8284e" stroke-width="0.22" transform="rotate(-45 295.45 499.50)" >sh5100A9_1</text>
<text x="309.75" y="499.50" font-size="8" fill="#c8284e" text-anchor="end" textLength="35.50" lengthAdjust="spacingAndGlyphs" stroke="#c8284e" stroke-width="0.22" transform="rotate(-45 309.75 499.50)" >sh5100A9_2</text>
<text x="242.50" y="540.50" font-size="7.5" fill="#6a3d8f" text-anchor="middle" textLength="37.50" lengthAdjust="spacingAndGlyphs" stroke="#6a3d8f" stroke-width="0.22" >BETi IC50_r</text>
<text x="242.40" y="547.60" font-size="7.5" fill="#6a3d8f" text-anchor="middle" textLength="31.30" lengthAdjust="spacingAndGlyphs" stroke="#6a3d8f" stroke-width="0.22" >+IC50 BETi</text>
<text x="293.70" y="540.50" font-size="7.5" fill="#c8284e" text-anchor="middle" textLength="35.00" lengthAdjust="spacingAndGlyphs" stroke="#c8284e" stroke-width="0.22" >BETi IC90_r</text>
<text x="292.70" y="547.60" font-size="7.5" fill="#c8284e" text-anchor="middle" textLength="30.50" lengthAdjust="spacingAndGlyphs" stroke="#c8284e" stroke-width="0.22" >+IC90 BETi</text>
<text x="331.60" y="409.00" font-size="12.3" fill="#111" font-weight="bold" >J</text>
<line x1="358.50" y1="424.60" x2="358.50" y2="490.40" stroke="#2b2b2b" stroke-width="1.5" />
<line x1="355.50" y1="489.70" x2="489.20" y2="489.70" stroke="#2b2b2b" stroke-width="1.5" />
<line x1="356.00" y1="427.00" x2="358.50" y2="427.00" stroke="#2b2b2b" stroke-width="1" />
<text x="354.00" y="429.40" font-size="7" fill="#333" text-anchor="end" stroke="#333" stroke-width="0.22" >100</text>
<line x1="356.00" y1="458.70" x2="358.50" y2="458.70" stroke="#2b2b2b" stroke-width="1" />
<text x="354.00" y="461.10" font-size="7" fill="#333" text-anchor="end" stroke="#333" stroke-width="0.22" >50</text>
<line x1="356.00" y1="490.40" x2="358.50" y2="490.40" stroke="#2b2b2b" stroke-width="1" />
<text x="354.00" y="492.80" font-size="7" fill="#333" text-anchor="end" stroke="#333" stroke-width="0.22" >0</text>
<rect x="362.70" y="427.00" width="7.40" height="63.40" fill="#d3d3dd"/>
<rect x="375.80" y="428.90" width="7.40" height="61.50" fill="#d3d3dd"/>
<rect x="408.80" y="427.00" width="7.40" height="63.40" fill="#8092c0"/>
<rect x="422.00" y="456.16" width="7.40" height="34.24" fill="#8092c0"/>
<rect x="454.60" y="427.00" width="7.40" height="63.40" fill="#e3897a"/>
<rect x="467.70" y="442.85" width="7.40" height="47.55" fill="#e3897a"/>
<line x1="366.40" y1="489.70" x2="366.40" y2="492.70" stroke="#2b2b2b" stroke-width="1" />
<line x1="379.50" y1="489.70" x2="379.50" y2="492.70" stroke="#2b2b2b" stroke-width="1" />
<line x1="412.50" y1="489.70" x2="412.50" y2="492.70" stroke="#2b2b2b" stroke-width="1" />
<line x1="425.70" y1="489.70" x2="425.70" y2="492.70" stroke="#2b2b2b" stroke-width="1" />
<line x1="458.30" y1="489.70" x2="458.30" y2="492.70" stroke="#2b2b2b" stroke-width="1" />
<line x1="471.40" y1="489.70" x2="471.40" y2="492.70" stroke="#2b2b2b" stroke-width="1" />
<circle cx="364.20" cy="427.00" r="1.80" fill="#8e8ea0" stroke="none" stroke-width="0.6"/>
<circle cx="366.40" cy="427.00" r="1.80" fill="#8e8ea0" stroke="none" stroke-width="0.6"/>
<circle cx="368.60" cy="427.00" r="1.80" fill="#8e8ea0" stroke="none" stroke-width="0.6"/>
<circle cx="377.70" cy="427.63" r="1.80" fill="#8e8ea0" stroke="none" stroke-width="0.6"/>
<circle cx="381.30" cy="428.27" r="1.80" fill="#8e8ea0" stroke="none" stroke-width="0.6"/>
<circle cx="379.50" cy="431.44" r="1.80" fill="#8e8ea0" stroke="none" stroke-width="0.6"/>
<circle cx="410.30" cy="427.00" r="1.90" fill="#1a3a7a" stroke="none" stroke-width="0.6"/>
<circle cx="412.50" cy="427.00" r="1.90" fill="#1a3a7a" stroke="none" stroke-width="0.6"/>
<circle cx="414.70" cy="427.00" r="1.90" fill="#1a3a7a" stroke="none" stroke-width="0.6"/>
<line x1="425.70" y1="447.48" x2="425.70" y2="455.53" stroke="#1a3a7a" stroke-width="0.7" />
<line x1="425.69" y1="447.48" x2="425.71" y2="447.48" stroke="#1a3a7a" stroke-width="0.7" />
<line x1="425.69" y1="455.53" x2="425.71" y2="455.53" stroke="#1a3a7a" stroke-width="0.7" />
<circle cx="425.90" cy="447.48" r="1.90" fill="#1a3a7a" stroke="none" stroke-width="0.6"/>
<circle cx="423.20" cy="456.23" r="1.90" fill="#1a3a7a" stroke="none" stroke-width="0.6"/>
<circle cx="427.70" cy="455.02" r="1.90" fill="#1a3a7a" stroke="none" stroke-width="0.6"/>
<circle cx="456.10" cy="427.00" r="1.90" fill="#c0102e" stroke="none" stroke-width="0.6"/>
<circle cx="458.30" cy="427.00" r="1.90" fill="#c0102e" stroke="none" stroke-width="0.6"/>
<circle cx="460.50" cy="427.00" r="1.90" fill="#c0102e" stroke="none" stroke-width="0.6"/>
<circle cx="469.20" cy="438.73" r="1.90" fill="#c0102e" stroke="none" stroke-width="0.6"/>
<circle cx="469.20" cy="445.01" r="1.90" fill="#c0102e" stroke="none" stroke-width="0.6"/>
<circle cx="473.20" cy="442.47" r="1.90" fill="#c0102e" stroke="none" stroke-width="0.6"/>
<path d="M426.2,423 L426.2,419.8 L471.5,419.8 L471.5,423" stroke="#333" fill="none" stroke-width="0.9" />
<text x="449.10" y="417.20" font-size="7" fill="#333" text-anchor="middle" textLength="16.70" lengthAdjust="spacingAndGlyphs" stroke="#333" stroke-width="0.22" >0.028</text>
<text x="370.30" y="501.00" font-size="8" fill="#333" text-anchor="end" textLength="18.00" lengthAdjust="spacingAndGlyphs" stroke="#333" stroke-width="0.22" transform="rotate(-45 370.30 501.00)" >DMSO</text>
<text x="383.10" y="501.40" font-size="8" fill="#333" text-anchor="end" textLength="31.00" lengthAdjust="spacingAndGlyphs" stroke="#333" stroke-width="0.22" transform="rotate(-45 383.10 501.40)" >Paquinimod</text>
<text x="388.50" y="506.60" font-size="8" fill="#333" text-anchor="end" textLength="19.50" lengthAdjust="spacingAndGlyphs" stroke="#333" stroke-width="0.22" transform="rotate(-45 388.50 506.60)" >12.5 μM</text>
<text x="416.40" y="501.00" font-size="8" fill="#333" text-anchor="end" textLength="18.00" lengthAdjust="spacingAndGlyphs" stroke="#333" stroke-width="0.22" transform="rotate(-45 416.40 501.00)" >DMSO</text>
<text x="429.30" y="501.40" font-size="8" fill="#333" text-anchor="end" textLength="31.00" lengthAdjust="spacingAndGlyphs" stroke="#333" stroke-width="0.22" transform="rotate(-45 429.30 501.40)" >Paquinimod</text>
<text x="434.70" y="506.60" font-size="8" fill="#333" text-anchor="end" textLength="19.50" lengthAdjust="spacingAndGlyphs" stroke="#333" stroke-width="0.22" transform="rotate(-45 434.70 506.60)" >12.5 μM</text>
<text x="462.20" y="501.00" font-size="8" fill="#333" text-anchor="end" textLength="18.00" lengthAdjust="spacingAndGlyphs" stroke="#333" stroke-width="0.22" transform="rotate(-45 462.20 501.00)" >DMSO</text>
<text x="475.00" y="501.40" font-size="8" fill="#333" text-anchor="end" textLength="31.00" lengthAdjust="spacingAndGlyphs" stroke="#333" stroke-width="0.22" transform="rotate(-45 475.00 501.40)" >Paquinimod</text>
<text x="480.40" y="506.60" font-size="8" fill="#333" text-anchor="end" textLength="19.50" lengthAdjust="spacingAndGlyphs" stroke="#333" stroke-width="0.22" transform="rotate(-45 480.40 506.60)" >12.5 μM</text>
<text x="373.00" y="539.30" font-size="7.5" fill="#6f6f86" text-anchor="middle" textLength="20.00" lengthAdjust="spacingAndGlyphs" stroke="#6f6f86" stroke-width="0.22" >DMSO</text>
<text x="373.00" y="547.30" font-size="7.5" fill="#6f6f86" text-anchor="middle" textLength="23.00" lengthAdjust="spacingAndGlyphs" stroke="#6f6f86" stroke-width="0.22" >no BETi</text>
<text x="418.50" y="539.30" font-size="7.5" fill="#6a3d8f" text-anchor="middle" textLength="34.00" lengthAdjust="spacingAndGlyphs" stroke="#6a3d8f" stroke-width="0.22" >BETi IC50_r</text>
<text x="418.40" y="547.30" font-size="7.5" fill="#6a3d8f" text-anchor="middle" textLength="31.00" lengthAdjust="spacingAndGlyphs" stroke="#6a3d8f" stroke-width="0.22" >+IC50 BETi</text>
<text x="465.90" y="539.30" font-size="7.5" fill="#c8284e" text-anchor="middle" textLength="36.00" lengthAdjust="spacingAndGlyphs" stroke="#c8284e" stroke-width="0.22" >BETi IC90_r</text>
<text x="465.90" y="547.30" font-size="7.5" fill="#c8284e" text-anchor="middle" textLength="33.00" lengthAdjust="spacingAndGlyphs" stroke="#c8284e" stroke-width="0.22" >+IC90 BETi</text>
<text x="7.20" y="574.60" font-size="12.3" fill="#111" font-weight="bold" >K</text>
<text x="45.60" y="571.80" font-size="9" fill="#3a8a72" textLength="84.00" lengthAdjust="spacingAndGlyphs" stroke="#3a8a72" stroke-width="0.22" >OCI-AML3_interferon</text>
<line x1="48.20" y1="577.70" x2="48.20" y2="643.90" stroke="#2b2b2b" stroke-width="1.5" />
<line x1="47.50" y1="643.20" x2="127.50" y2="643.20" stroke="#2b2b2b" stroke-width="1.5" />
<line x1="45.70" y1="580.20" x2="48.20" y2="580.20" stroke="#2b2b2b" stroke-width="1" />
<text x="43.40" y="582.60" font-size="7" fill="#333" text-anchor="end" stroke="#333" stroke-width="0.22" >400</text>
<line x1="45.70" y1="609.35" x2="48.20" y2="609.35" stroke="#2b2b2b" stroke-width="1" />
<text x="43.40" y="611.75" font-size="7" fill="#333" text-anchor="end" stroke="#333" stroke-width="0.22" >200</text>
<line x1="45.70" y1="638.50" x2="48.20" y2="638.50" stroke="#2b2b2b" stroke-width="1" />
<text x="43.40" y="640.90" font-size="7" fill="#333" text-anchor="end" stroke="#333" stroke-width="0.22" >0</text>
<text x="27.50" y="610.40" font-size="8.5" fill="#333" text-anchor="middle" textLength="44.00" lengthAdjust="spacingAndGlyphs" stroke="#333" stroke-width="0.22" transform="rotate(-90 27.50 610.40)" >Average FPKM</text>
<line x1="70.75" y1="643.20" x2="70.75" y2="646.20" stroke="#2b2b2b" stroke-width="1" />
<line x1="88.75" y1="643.20" x2="88.75" y2="646.20" stroke="#2b2b2b" stroke-width="1" />
<line x1="106.25" y1="643.20" x2="106.25" y2="646.20" stroke="#2b2b2b" stroke-width="1" />
<line x1="124.50" y1="643.20" x2="124.50" y2="646.20" stroke="#2b2b2b" stroke-width="1" />
<line x1="70.75" y1="616.60" x2="70.75" y2="622.60" stroke="#2a2a2a" stroke-width="0.7" />
<line x1="69.35" y1="616.60" x2="72.15" y2="616.60" stroke="#2a2a2a" stroke-width="0.7" />
<line x1="69.35" y1="622.60" x2="72.15" y2="622.60" stroke="#2a2a2a" stroke-width="0.7" />
<line x1="88.75" y1="612.50" x2="88.75" y2="625.50" stroke="#2a2a2a" stroke-width="0.7" />
<line x1="87.35" y1="612.50" x2="90.15" y2="612.50" stroke="#2a2a2a" stroke-width="0.7" />
<line x1="87.35" y1="625.50" x2="90.15" y2="625.50" stroke="#2a2a2a" stroke-width="0.7" />
<line x1="88.75" y1="616.00" x2="88.75" y2="628.50" stroke="#2a2a2a" stroke-width="0.7" />
<line x1="87.35" y1="616.00" x2="90.15" y2="616.00" stroke="#2a2a2a" stroke-width="0.7" />
<line x1="87.35" y1="628.50" x2="90.15" y2="628.50" stroke="#2a2a2a" stroke-width="0.7" />
<path d="M70.75,619.50 L88.75,618.75 L106.25,597.50 L124.50,635.00" stroke="#c63c4c" fill="none" stroke-width="1" />
<path d="M70.75,635.00 L88.75,622.00 L106.25,625.75 L124.50,637.50" stroke="#35618f" fill="none" stroke-width="1" />
<circle cx="70.75" cy="619.50" r="1.80" fill="#842c3a" stroke="#1e1e1e" stroke-width="1.0"/>
<circle cx="88.75" cy="618.75" r="1.80" fill="#842c3a" stroke="#1e1e1e" stroke-width="1.0"/>
<circle cx="106.25" cy="597.50" r="1.80" fill="#842c3a" stroke="#1e1e1e" stroke-width="1.0"/>
<circle cx="124.50" cy="635.00" r="1.80" fill="#842c3a" stroke="#1e1e1e" stroke-width="1.0"/>
<circle cx="70.75" cy="635.00" r="1.80" fill="#30486c" stroke="#1e1e1e" stroke-width="1.0"/>
<circle cx="88.75" cy="622.00" r="1.80" fill="#30486c" stroke="#1e1e1e" stroke-width="1.0"/>
<circle cx="106.25" cy="625.75" r="1.80" fill="#30486c" stroke="#1e1e1e" stroke-width="1.0"/>
<circle cx="124.50" cy="637.50" r="1.80" fill="#30486c" stroke="#1e1e1e" stroke-width="1.0"/>
<circle cx="133.00" cy="580.50" r="2.40" fill="#30486c" stroke="#1e1e1e" stroke-width="1.0"/>
<circle cx="133.00" cy="590.50" r="2.40" fill="#842c3a" stroke="#1e1e1e" stroke-width="1.0"/>
<text x="139.80" y="583.00" font-size="7.5" fill="#333" textLength="25.80" lengthAdjust="spacingAndGlyphs" stroke="#333" stroke-width="0.22" >no p300i</text>
<text x="139.80" y="593.00" font-size="7.5" fill="#333" textLength="21.40" lengthAdjust="spacingAndGlyphs" stroke="#333" stroke-width="0.22" >+p300i</text>
<text x="73.25" y="653.80" font-size="8" fill="#333" text-anchor="end" textLength="19.00" lengthAdjust="spacingAndGlyphs" stroke="#333" stroke-width="0.22" transform="rotate(-45 73.25 653.80)" >DMSO</text>
<text x="91.25" y="653.80" font-size="8" fill="#333" text-anchor="end" textLength="27.00" lengthAdjust="spacingAndGlyphs" stroke="#333" stroke-width="0.22" transform="rotate(-45 91.25 653.80)" >BETi_72h</text>
<text x="108.75" y="653.80" font-size="8" fill="#333" text-anchor="end" textLength="34.00" lengthAdjust="spacingAndGlyphs" stroke="#333" stroke-width="0.22" transform="rotate(-45 108.75 653.80)" >BETi_ic50_r</text>
<text x="127.00" y="653.80" font-size="8" fill="#333" text-anchor="end" textLength="34.00" lengthAdjust="spacingAndGlyphs" stroke="#333" stroke-width="0.22" transform="rotate(-45 127.00 653.80)" >BETi_ic90_r</text>
<text x="180.80" y="574.60" font-size="12.3" fill="#111" font-weight="bold" >L</text>
<text x="247.00" y="571.90" font-size="9" fill="#6a3d8f" textLength="45.00" lengthAdjust="spacingAndGlyphs" stroke="#6a3d8f" stroke-width="0.22" >BETi IC50_r</text>
<text x="372.50" y="572.20" font-size="9" fill="#c8284e" textLength="44.50" lengthAdjust="spacingAndGlyphs" stroke="#c8284e" stroke-width="0.22" >BETi IC90_r</text>
<line x1="220.50" y1="577.50" x2="220.50" y2="643.70" stroke="#2b2b2b" stroke-width="1.5" />
<line x1="219.80" y1="643.00" x2="306.00" y2="643.00" stroke="#2b2b2b" stroke-width="1.5" />
<line x1="218.00" y1="592.50" x2="220.50" y2="592.50" stroke="#2b2b2b" stroke-width="1" />
<text x="215.00" y="594.90" font-size="7" fill="#333" text-anchor="end" stroke="#333" stroke-width="0.22" >100</text>
<line x1="218.00" y1="618.00" x2="220.50" y2="618.00" stroke="#2b2b2b" stroke-width="1" />
<text x="215.00" y="620.40" font-size="7" fill="#333" text-anchor="end" stroke="#333" stroke-width="0.22" >50</text>
<line x1="218.00" y1="643.00" x2="220.50" y2="643.00" stroke="#2b2b2b" stroke-width="1" />
<text x="215.00" y="645.40" font-size="7" fill="#333" text-anchor="end" stroke="#333" stroke-width="0.22" >0</text>
<line x1="345.50" y1="577.50" x2="345.50" y2="643.70" stroke="#2b2b2b" stroke-width="1.5" />
<line x1="344.80" y1="643.00" x2="443.75" y2="643.00" stroke="#2b2b2b" stroke-width="1.5" />
<line x1="343.00" y1="592.50" x2="345.50" y2="592.50" stroke="#2b2b2b" stroke-width="1" />
<text x="340.00" y="594.90" font-size="7" fill="#333" text-anchor="end" stroke="#333" stroke-width="0.22" >100</text>
<line x1="343.00" y1="618.00" x2="345.50" y2="618.00" stroke="#2b2b2b" stroke-width="1" />
<text x="340.00" y="620.40" font-size="7" fill="#333" text-anchor="end" stroke="#333" stroke-width="0.22" >50</text>
<line x1="343.00" y1="643.00" x2="345.50" y2="643.00" stroke="#2b2b2b" stroke-width="1" />
<text x="340.00" y="645.40" font-size="7" fill="#333" text-anchor="end" stroke="#333" stroke-width="0.22" >0</text>
<text x="198.00" y="610.00" font-size="8.5" fill="#333" text-anchor="middle" textLength="62.50" lengthAdjust="spacingAndGlyphs" stroke="#333" stroke-width="0.22" transform="rotate(-90 198.00 610.00)" >% Viability vs. DMSO</text>
<line x1="237.00" y1="643.00" x2="237.00" y2="646.00" stroke="#2b2b2b" stroke-width="1" />
<line x1="269.50" y1="643.00" x2="269.50" y2="646.00" stroke="#2b2b2b" stroke-width="1" />
<line x1="302.50" y1="643.00" x2="302.50" y2="646.00" stroke="#2b2b2b" stroke-width="1" />
<line x1="362.50" y1="643.00" x2="362.50" y2="646.00" stroke="#2b2b2b" stroke-width="1" />
<line x1="394.80" y1="643.00" x2="394.80" y2="646.00" stroke="#2b2b2b" stroke-width="1" />
<line x1="427.80" y1="643.00" x2="427.80" y2="646.00" stroke="#2b2b2b" stroke-width="1" />
<path d="M237.00,592.50 L269.50,603.00 L302.50,616.00" stroke="#f0a030" fill="none" stroke-width="1.1" />
<path d="M237.00,592.50 L269.50,594.00 L302.50,602.00" stroke="#2a7a55" fill="none" stroke-width="1.1" />
<path d="M237.00,592.50 L269.50,592.80 L302.50,597.00" stroke="#5ab04a" fill="none" stroke-width="1.1" />
<line x1="269.50" y1="589.50" x2="269.50" y2="594.00" stroke="#5ab04a" stroke-width="0.7" />
<line x1="268.30" y1="589.50" x2="270.70" y2="589.50" stroke="#5ab04a" stroke-width="0.7" />
<line x1="268.30" y1="594.00" x2="270.70" y2="594.00" stroke="#5ab04a" stroke-width="0.7" />
<line x1="302.50" y1="596.00" x2="302.50" y2="600.00" stroke="#5ab04a" stroke-width="0.7" />
<line x1="301.30" y1="596.00" x2="303.70" y2="596.00" stroke="#5ab04a" stroke-width="0.7" />
<line x1="301.30" y1="600.00" x2="303.70" y2="600.00" stroke="#5ab04a" stroke-width="0.7" />
<line x1="302.50" y1="600.00" x2="302.50" y2="603.00" stroke="#2a7a55" stroke-width="0.7" />
<line x1="301.30" y1="600.00" x2="303.70" y2="600.00" stroke="#2a7a55" stroke-width="0.7" />
<line x1="301.30" y1="603.00" x2="303.70" y2="603.00" stroke="#2a7a55" stroke-width="0.7" />
<line x1="269.50" y1="602.30" x2="269.50" y2="603.60" stroke="#f0a030" stroke-width="0.7" />
<line x1="268.50" y1="602.30" x2="270.50" y2="602.30" stroke="#f0a030" stroke-width="0.7" />
<line x1="268.50" y1="603.60" x2="270.50" y2="603.60" stroke="#f0a030" stroke-width="0.7" />
<line x1="302.50" y1="615.30" x2="302.50" y2="616.60" stroke="#f0a030" stroke-width="0.7" />
<line x1="301.50" y1="615.30" x2="303.50" y2="615.30" stroke="#f0a030" stroke-width="0.7" />
<line x1="301.50" y1="616.60" x2="303.50" y2="616.60" stroke="#f0a030" stroke-width="0.7" />
<text x="292.50" y="593.60" font-size="7" fill="#333" textLength="20.00" lengthAdjust="spacingAndGlyphs" stroke="#333" stroke-width="0.22" >&lt;0.001</text>
<text x="294.50" y="611.10" font-size="7" fill="#333" textLength="16.00" lengthAdjust="spacingAndGlyphs" stroke="#333" stroke-width="0.22" >0.004</text>
<path d="M362.50,592.50 L394.80,586.25 L427.80,603.00" stroke="#f0a030" fill="none" stroke-width="1.1" />
<path d="M362.50,592.50 L394.80,595.00 L427.80,613.00" stroke="#2a7a55" fill="none" stroke-width="1.1" />
<path d="M362.50,592.50 L394.80,606.25 L427.80,627.00" stroke="#5ab04a" fill="none" stroke-width="1.1" />
<line x1="394.80" y1="584.50" x2="394.80" y2="586.50" stroke="#f0a030" stroke-width="0.7" />
<line x1="393.60" y1="584.50" x2="396.00" y2="584.50" stroke="#f0a030" stroke-width="0.7" />
<line x1="393.60" y1="586.50" x2="396.00" y2="586.50" stroke="#f0a030" stroke-width="0.7" />
<line x1="427.80" y1="600.00" x2="427.80" y2="603.00" stroke="#f0a030" stroke-width="0.7" />
<line x1="426.60" y1="600.00" x2="429.00" y2="600.00" stroke="#f0a030" stroke-width="0.7" />
<line x1="426.60" y1="603.00" x2="429.00" y2="603.00" stroke="#f0a030" stroke-width="0.7" />
<line x1="394.80" y1="593.30" x2="394.80" y2="595.00" stroke="#2a7a55" stroke-width="0.7" />
<line x1="393.60" y1="593.30" x2="396.00" y2="593.30" stroke="#2a7a55" stroke-width="0.7" />
<line x1="393.60" y1="595.00" x2="396.00" y2="595.00" stroke="#2a7a55" stroke-width="0.7" />
<line x1="427.80" y1="607.00" x2="427.80" y2="613.00" stroke="#2a7a55" stroke-width="0.7" />
<line x1="426.60" y1="607.00" x2="429.00" y2="607.00" stroke="#2a7a55" stroke-width="0.7" />
<line x1="426.60" y1="613.00" x2="429.00" y2="613.00" stroke="#2a7a55" stroke-width="0.7" />
<line x1="394.80" y1="600.00" x2="394.80" y2="606.25" stroke="#5ab04a" stroke-width="0.7" />
<line x1="393.60" y1="600.00" x2="396.00" y2="600.00" stroke="#5ab04a" stroke-width="0.7" />
<line x1="393.60" y1="606.25" x2="396.00" y2="606.25" stroke="#5ab04a" stroke-width="0.7" />
<line x1="427.80" y1="626.50" x2="427.80" y2="628.00" stroke="#5ab04a" stroke-width="0.7" />
<line x1="426.60" y1="626.50" x2="429.00" y2="626.50" stroke="#5ab04a" stroke-width="0.7" />
<line x1="426.60" y1="628.00" x2="429.00" y2="628.00" stroke="#5ab04a" stroke-width="0.7" />
<text x="421.25" y="621.70" font-size="7" fill="#333" textLength="13.20" lengthAdjust="spacingAndGlyphs" stroke="#333" stroke-width="0.22" >0.06</text>
<text x="418.00" y="636.70" font-size="7" fill="#333" textLength="19.00" lengthAdjust="spacingAndGlyphs" stroke="#333" stroke-width="0.22" >&lt;0.001</text>
<line x1="448.00" y1="581.25" x2="456.25" y2="581.25" stroke="#f0a030" stroke-width="1.8" />
<text x="458.75" y="583.75" font-size="7.5" fill="#333" textLength="17.00" lengthAdjust="spacingAndGlyphs" stroke="#333" stroke-width="0.22" >shLuc</text>
<line x1="448.00" y1="590.50" x2="456.25" y2="590.50" stroke="#2a7a55" stroke-width="1.8" />
<text x="458.75" y="593.00" font-size="7.5" fill="#333" textLength="31.00" lengthAdjust="spacingAndGlyphs" stroke="#333" stroke-width="0.22" >shSTAT1_1</text>
<line x1="448.00" y1="600.50" x2="456.25" y2="600.50" stroke="#5ab04a" stroke-width="1.8" />
<text x="458.75" y="603.00" font-size="7.5" fill="#333" textLength="31.00" lengthAdjust="spacingAndGlyphs" stroke="#333" stroke-width="0.22" >shSTAT1_2</text>
<text x="240.20" y="654.00" font-size="8" fill="#333" text-anchor="end" textLength="18.50" lengthAdjust="spacingAndGlyphs" stroke="#333" stroke-width="0.22" transform="rotate(-45 240.20 654.00)" >DMSO</text>
<text x="272.70" y="654.00" font-size="8" fill="#333" text-anchor="end" textLength="39.50" lengthAdjust="spacingAndGlyphs" stroke="#333" stroke-width="0.22" transform="rotate(-45 272.70 654.00)" >100 nM p300i</text>
<text x="305.70" y="654.00" font-size="8" fill="#333" text-anchor="end" textLength="39.50" lengthAdjust="spacingAndGlyphs" stroke="#333" stroke-width="0.22" transform="rotate(-45 305.70 654.00)" >200 nM p300i</text>
<text x="365.70" y="654.00" font-size="8" fill="#333" text-anchor="end" textLength="18.50" lengthAdjust="spacingAndGlyphs" stroke="#333" stroke-width="0.22" transform="rotate(-45 365.70 654.00)" >DMSO</text>
<text x="398.00" y="654.00" font-size="8" fill="#333" text-anchor="end" textLength="39.50" lengthAdjust="spacingAndGlyphs" stroke="#333" stroke-width="0.22" transform="rotate(-45 398.00 654.00)" >100 nM p300i</text>
<text x="431.00" y="654.00" font-size="8" fill="#333" text-anchor="end" textLength="39.50" lengthAdjust="spacingAndGlyphs" stroke="#333" stroke-width="0.22" transform="rotate(-45 431.00 654.00)" >200 nM p300i</text>
<rect x="0.5" y="0.5" width="519" height="689" fill="none" stroke="#4a4a4a" stroke-width="1.1"/>
</svg>
</body></html>
